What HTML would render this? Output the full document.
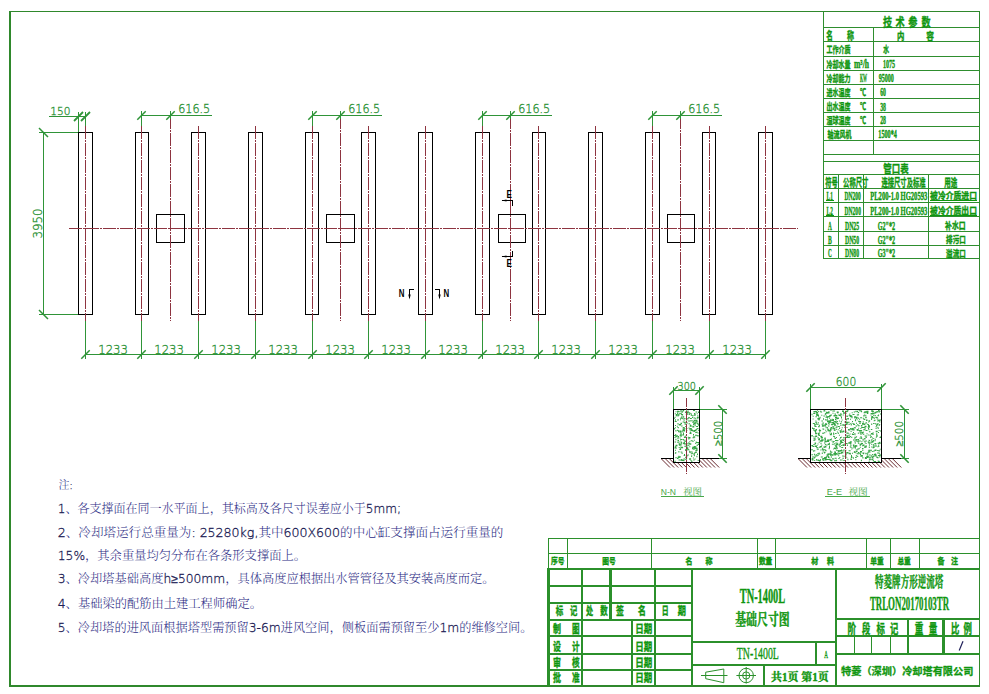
<!DOCTYPE html>
<html lang="zh-CN">
<head>
<meta charset="utf-8">
<title>TN-1400L 基础尺寸图</title>
<style>
html,body{margin:0;padding:0;background:#fff;}
body{width:989px;height:694px;overflow:hidden;}
svg{display:block;}
text{white-space:pre;}
.cad{font-family:"DejaVu Sans","Liberation Sans",sans-serif;font-weight:200;stroke:#2f9438;stroke-width:.35px;}
.ser{font-family:"Liberation Serif","Noto Serif CJK SC",serif;}
.song{font-family:"Liberation Serif","Noto Serif CJK SC",serif;font-weight:bold;}
.hei{font-family:"Liberation Sans","Noto Sans CJK SC",sans-serif;}
.note{font-family:"DejaVu Sans","Liberation Sans","Noto Serif CJK SC",serif;font-weight:300;}
</style>
</head>
<body>
<svg width="989" height="694" viewBox="0 0 989 694">
<rect width="989" height="694" fill="#fff"/>
<path fill="#2f882c" shape-rendering="crispEdges" d="M9 11h2v676h-2zM9 685h971v2h-971zM9 11h971v1h-971zM979 11h1v676h-1z"/>
<path fill="#000" shape-rendering="crispEdges" d="M78 132h1v183h-1zM92 132h1v183h-1zM78 132h15v1h-15zM78 314h15v1h-15zM135 132h1v183h-1zM148 132h1v183h-1zM135 132h14v1h-14zM135 314h14v1h-14zM191 132h1v183h-1zM205 132h1v183h-1zM191 132h15v1h-15zM191 314h15v1h-15zM248 132h1v183h-1zM262 132h1v183h-1zM248 132h15v1h-15zM248 314h15v1h-15zM305 132h1v183h-1zM318 132h1v183h-1zM305 132h14v1h-14zM305 314h14v1h-14zM361 132h1v183h-1zM375 132h1v183h-1zM361 132h15v1h-15zM361 314h15v1h-15zM418 132h1v183h-1zM432 132h1v183h-1zM418 132h15v1h-15zM418 314h15v1h-15zM475 132h1v183h-1zM489 132h1v183h-1zM475 132h15v1h-15zM475 314h15v1h-15zM532 132h1v183h-1zM545 132h1v183h-1zM532 132h14v1h-14zM532 314h14v1h-14zM588 132h1v183h-1zM602 132h1v183h-1zM588 132h15v1h-15zM588 314h15v1h-15zM645 132h1v183h-1zM659 132h1v183h-1zM645 132h15v1h-15zM645 314h15v1h-15zM702 132h1v183h-1zM715 132h1v183h-1zM702 132h14v1h-14zM702 314h14v1h-14zM758 132h1v183h-1zM772 132h1v183h-1zM758 132h15v1h-15zM758 314h15v1h-15zM156 214h1v29h-1zM184 214h1v29h-1zM156 214h29v1h-29zM156 242h29v1h-29zM326 214h1v29h-1zM354 214h1v29h-1zM326 214h29v1h-29zM326 242h29v1h-29zM498 214h1v29h-1zM525 214h1v29h-1zM498 214h28v1h-28zM498 242h28v1h-28zM667 214h1v29h-1zM694 214h1v29h-1zM667 214h28v1h-28zM667 242h28v1h-28z"/>
<line x1="85.5" y1="126" x2="85.5" y2="321" stroke="#8e3440" stroke-width="1" stroke-dasharray="13 1 2 1" stroke-dashoffset="0" shape-rendering="crispEdges"/>
<line x1="141.5" y1="126" x2="141.5" y2="321" stroke="#8e3440" stroke-width="1" stroke-dasharray="13 1 2 1" stroke-dashoffset="0" shape-rendering="crispEdges"/>
<line x1="198.5" y1="126" x2="198.5" y2="321" stroke="#8e3440" stroke-width="1" stroke-dasharray="13 1 2 1" stroke-dashoffset="0" shape-rendering="crispEdges"/>
<line x1="255.5" y1="126" x2="255.5" y2="321" stroke="#8e3440" stroke-width="1" stroke-dasharray="13 1 2 1" stroke-dashoffset="0" shape-rendering="crispEdges"/>
<line x1="312.5" y1="126" x2="312.5" y2="321" stroke="#8e3440" stroke-width="1" stroke-dasharray="13 1 2 1" stroke-dashoffset="0" shape-rendering="crispEdges"/>
<line x1="368.5" y1="126" x2="368.5" y2="321" stroke="#8e3440" stroke-width="1" stroke-dasharray="13 1 2 1" stroke-dashoffset="0" shape-rendering="crispEdges"/>
<line x1="425.5" y1="126" x2="425.5" y2="321" stroke="#8e3440" stroke-width="1" stroke-dasharray="13 1 2 1" stroke-dashoffset="0" shape-rendering="crispEdges"/>
<line x1="482.5" y1="126" x2="482.5" y2="321" stroke="#8e3440" stroke-width="1" stroke-dasharray="13 1 2 1" stroke-dashoffset="0" shape-rendering="crispEdges"/>
<line x1="538.5" y1="126" x2="538.5" y2="321" stroke="#8e3440" stroke-width="1" stroke-dasharray="13 1 2 1" stroke-dashoffset="0" shape-rendering="crispEdges"/>
<line x1="595.5" y1="126" x2="595.5" y2="321" stroke="#8e3440" stroke-width="1" stroke-dasharray="13 1 2 1" stroke-dashoffset="0" shape-rendering="crispEdges"/>
<line x1="652.5" y1="126" x2="652.5" y2="321" stroke="#8e3440" stroke-width="1" stroke-dasharray="13 1 2 1" stroke-dashoffset="0" shape-rendering="crispEdges"/>
<line x1="709.5" y1="126" x2="709.5" y2="321" stroke="#8e3440" stroke-width="1" stroke-dasharray="13 1 2 1" stroke-dashoffset="0" shape-rendering="crispEdges"/>
<line x1="765.5" y1="126" x2="765.5" y2="321" stroke="#8e3440" stroke-width="1" stroke-dasharray="13 1 2 1" stroke-dashoffset="0" shape-rendering="crispEdges"/>
<line x1="170.5" y1="119" x2="170.5" y2="321" stroke="#8e3440" stroke-width="1" stroke-dasharray="13 1 2 1" stroke-dashoffset="3" shape-rendering="crispEdges"/>
<line x1="340.5" y1="119" x2="340.5" y2="321" stroke="#8e3440" stroke-width="1" stroke-dasharray="13 1 2 1" stroke-dashoffset="3" shape-rendering="crispEdges"/>
<line x1="510.5" y1="119" x2="510.5" y2="321" stroke="#8e3440" stroke-width="1" stroke-dasharray="13 1 2 1" stroke-dashoffset="3" shape-rendering="crispEdges"/>
<line x1="680.5" y1="119" x2="680.5" y2="321" stroke="#8e3440" stroke-width="1" stroke-dasharray="13 1 2 1" stroke-dashoffset="3" shape-rendering="crispEdges"/>
<line x1="69" y1="228.5" x2="798" y2="228.5" stroke="#8e3440" stroke-width="1" stroke-dasharray="13 1 2 1" stroke-dashoffset="0" shape-rendering="crispEdges"/>
<path fill="#2f9438" shape-rendering="crispEdges" d="M85 321h1v38h-1zM141 321h1v38h-1zM198 321h1v38h-1zM255 321h1v38h-1zM312 321h1v38h-1zM368 321h1v38h-1zM425 321h1v38h-1zM482 321h1v38h-1zM538 321h1v38h-1zM595 321h1v38h-1zM652 321h1v38h-1zM709 321h1v38h-1zM765 321h1v38h-1zM85 354h681v1h-681zM43 132h1v183h-1zM39 132h39v1h-39zM39 314h39v1h-39zM49 116h37v1h-37zM78 112h1v20h-1zM85 112h1v14h-1zM141 115h71v1h-71zM141 111h1v15h-1zM170 111h1v8h-1zM312 115h70v1h-70zM312 111h1v15h-1zM340 111h1v8h-1zM482 115h70v1h-70zM482 111h1v15h-1zM510 111h1v8h-1zM652 115h70v1h-70zM652 111h1v15h-1zM680 111h1v8h-1z"/>
<line x1="81.3" y1="358.7" x2="89.7" y2="350.3" stroke="#2f9438" stroke-width="1.5"/>
<line x1="137.3" y1="358.7" x2="145.7" y2="350.3" stroke="#2f9438" stroke-width="1.5"/>
<line x1="194.3" y1="358.7" x2="202.7" y2="350.3" stroke="#2f9438" stroke-width="1.5"/>
<line x1="251.3" y1="358.7" x2="259.7" y2="350.3" stroke="#2f9438" stroke-width="1.5"/>
<line x1="308.3" y1="358.7" x2="316.7" y2="350.3" stroke="#2f9438" stroke-width="1.5"/>
<line x1="364.3" y1="358.7" x2="372.7" y2="350.3" stroke="#2f9438" stroke-width="1.5"/>
<line x1="421.3" y1="358.7" x2="429.7" y2="350.3" stroke="#2f9438" stroke-width="1.5"/>
<line x1="478.3" y1="358.7" x2="486.7" y2="350.3" stroke="#2f9438" stroke-width="1.5"/>
<line x1="534.3" y1="358.7" x2="542.7" y2="350.3" stroke="#2f9438" stroke-width="1.5"/>
<line x1="591.3" y1="358.7" x2="599.7" y2="350.3" stroke="#2f9438" stroke-width="1.5"/>
<line x1="648.3" y1="358.7" x2="656.7" y2="350.3" stroke="#2f9438" stroke-width="1.5"/>
<line x1="705.3" y1="358.7" x2="713.7" y2="350.3" stroke="#2f9438" stroke-width="1.5"/>
<line x1="761.3" y1="358.7" x2="769.7" y2="350.3" stroke="#2f9438" stroke-width="1.5"/>
<line x1="39" y1="128" x2="48" y2="137" stroke="#2f9438" stroke-width="1.5"/>
<line x1="39" y1="310" x2="48" y2="319" stroke="#2f9438" stroke-width="1.5"/>
<line x1="74" y1="121" x2="83" y2="112" stroke="#2f9438" stroke-width="1.8"/>
<line x1="81" y1="121" x2="90" y2="112" stroke="#2f9438" stroke-width="1.8"/>
<line x1="137.3" y1="119.7" x2="145.7" y2="111.3" stroke="#2f9438" stroke-width="1.5"/>
<line x1="166.3" y1="119.7" x2="174.7" y2="111.3" stroke="#2f9438" stroke-width="1.5"/>
<line x1="308.3" y1="119.7" x2="316.7" y2="111.3" stroke="#2f9438" stroke-width="1.5"/>
<line x1="336.3" y1="119.7" x2="344.7" y2="111.3" stroke="#2f9438" stroke-width="1.5"/>
<line x1="478.3" y1="119.7" x2="486.7" y2="111.3" stroke="#2f9438" stroke-width="1.5"/>
<line x1="506.3" y1="119.7" x2="514.7" y2="111.3" stroke="#2f9438" stroke-width="1.5"/>
<line x1="648.3" y1="119.7" x2="656.7" y2="111.3" stroke="#2f9438" stroke-width="1.5"/>
<line x1="676.3" y1="119.7" x2="684.7" y2="111.3" stroke="#2f9438" stroke-width="1.5"/>
<text x="98.3" y="353.6" font-size="11.8" fill="#2f9438" textLength="29.6" lengthAdjust="spacingAndGlyphs" class="cad">1233</text>
<text x="154.3" y="353.6" font-size="11.8" fill="#2f9438" textLength="29.6" lengthAdjust="spacingAndGlyphs" class="cad">1233</text>
<text x="211.3" y="353.6" font-size="11.8" fill="#2f9438" textLength="29.6" lengthAdjust="spacingAndGlyphs" class="cad">1233</text>
<text x="268.3" y="353.6" font-size="11.8" fill="#2f9438" textLength="29.6" lengthAdjust="spacingAndGlyphs" class="cad">1233</text>
<text x="325.3" y="353.6" font-size="11.8" fill="#2f9438" textLength="29.6" lengthAdjust="spacingAndGlyphs" class="cad">1233</text>
<text x="381.3" y="353.6" font-size="11.8" fill="#2f9438" textLength="29.6" lengthAdjust="spacingAndGlyphs" class="cad">1233</text>
<text x="438.3" y="353.6" font-size="11.8" fill="#2f9438" textLength="29.6" lengthAdjust="spacingAndGlyphs" class="cad">1233</text>
<text x="495.3" y="353.6" font-size="11.8" fill="#2f9438" textLength="29.6" lengthAdjust="spacingAndGlyphs" class="cad">1233</text>
<text x="551.3" y="353.6" font-size="11.8" fill="#2f9438" textLength="29.6" lengthAdjust="spacingAndGlyphs" class="cad">1233</text>
<text x="608.3" y="353.6" font-size="11.8" fill="#2f9438" textLength="29.6" lengthAdjust="spacingAndGlyphs" class="cad">1233</text>
<text x="665.3" y="353.6" font-size="11.8" fill="#2f9438" textLength="29.6" lengthAdjust="spacingAndGlyphs" class="cad">1233</text>
<text x="722.3" y="353.6" font-size="11.8" fill="#2f9438" textLength="29.6" lengthAdjust="spacingAndGlyphs" class="cad">1233</text>
<text x="50.2" y="114.6" font-size="11.2" fill="#2f9438" textLength="20.2" lengthAdjust="spacingAndGlyphs" class="cad">150</text>
<text x="178.2" y="113.4" font-size="11.6" fill="#2f9438" textLength="32" lengthAdjust="spacingAndGlyphs" class="cad">616.5</text>
<text x="348.2" y="113.4" font-size="11.6" fill="#2f9438" textLength="32" lengthAdjust="spacingAndGlyphs" class="cad">616.5</text>
<text x="518.2" y="113.4" font-size="11.6" fill="#2f9438" textLength="32" lengthAdjust="spacingAndGlyphs" class="cad">616.5</text>
<text x="688.2" y="113.4" font-size="11.6" fill="#2f9438" textLength="32" lengthAdjust="spacingAndGlyphs" class="cad">616.5</text>
<text transform="translate(41.8 238.6) rotate(-90)" font-size="11.4" fill="#2f9438" textLength="30" lengthAdjust="spacingAndGlyphs" class="cad">3950</text>
<path fill="#000" shape-rendering="crispEdges" d="M409 289h5v1h-5zM409 289h1v9h-1zM435 289h5v1h-5zM439 289h1v9h-1zM502 200h11v1h-11zM512 200h1v6h-1zM512 251h1v5h-1zM502 256h11v1h-11z"/>
<path fill="#000" d="M408.3 294.5l1.2 5 1.2-5zM438.3 294.5l1.2 5 1.2-5zM506.5 199.4l-5 1.1 5 1.1zM506.5 255.4l-5 1.1 5 1.1z"/>
<text x="398.8" y="296.8" font-size="11.8" fill="#000" textLength="5.7" lengthAdjust="spacingAndGlyphs" font-weight="bold" class="hei">N</text>
<text x="443.4" y="296.8" font-size="11.8" fill="#000" textLength="5.7" lengthAdjust="spacingAndGlyphs" font-weight="bold" class="hei">N</text>
<text x="506.6" y="198.4" font-size="11.8" fill="#000" textLength="5.4" lengthAdjust="spacingAndGlyphs" font-weight="bold" class="hei">E</text>
<text x="506.6" y="267.2" font-size="11.8" fill="#000" textLength="5.4" lengthAdjust="spacingAndGlyphs" font-weight="bold" class="hei">E</text>
<path stroke="#6b2a30" stroke-width="1" fill="none" d="M661.5 459l8.5 8.5M665.6 459l8.5 8.5M669.7 459l8.5 8.5M673.8 459l8.5 8.5M677.9 459l8.5 8.5M682.0 459l8.5 8.5M686.1 459l8.5 8.5M690.2 459l8.5 8.5M694.3 459l8.5 8.5M698.4 459l8.5 8.5M702.5 459l8.5 8.5M706.6 459l8.5 8.5M710.7 459l8.5 8.5"/>
<rect x="673.5" y="409.5" width="26" height="53" fill="#fff"/>
<path fill="#35a545" d="M681.8 417.7h1v1h-1zM693.7 414.8h2v1h-2zM695.8 420.9h1v1h-1zM684.0 422.3h2v1h-2zM675.4 438.8h1v1.5h-1zM689.1 458.3h2v1.5h-2zM683.5 459.8h1v1.5h-1zM694.6 424.8h1v1.5h-1zM676.8 425.7h1v1h-1zM688.0 442.6h1v1h-1zM687.1 413.2h1v1.5h-1zM678.9 444.7h1.5v1h-1.5zM685.2 457.1h1v1h-1zM680.0 419.2h1v1h-1zM687.8 436.8h1v1.5h-1zM684.8 441.1h1v1h-1zM686.3 418.4h1v1h-1zM696.4 431.5h1v1.5h-1zM687.8 454.6h1v1h-1zM690.7 440.3h2v1h-2zM675.7 414.8h1v1h-1zM690.7 413.3h1v1.5h-1zM687.9 444.7h1.5v1h-1.5zM691.2 455.2h1v1h-1zM696.6 428.1h2v1h-2zM685.8 421.1h1v1h-1zM691.7 430.3h1.5v1h-1.5zM678.0 430.5h1v1h-1zM693.7 454.1h1v1.5h-1zM684.0 428.3h1.5v1h-1.5zM677.6 419.0h1v1.5h-1zM679.6 434.7h2v1h-2zM680.3 410.2h1.5v1.5h-1.5zM682.9 438.9h1v1.5h-1zM694.6 458.5h1v1h-1zM695.6 449.8h2v1h-2zM683.6 430.1h1.5v1.5h-1.5zM683.6 419.7h1v1h-1zM677.9 427.3h1v1h-1zM674.0 417.7h1v1h-1zM688.7 413.6h1v1.5h-1zM683.0 442.4h1v1.5h-1zM682.7 416.3h1.5v1h-1.5zM685.5 425.9h1v1h-1zM692.0 447.8h1.5v1.5h-1.5zM677.9 411.2h2v1h-2zM677.5 437.7h1v1.5h-1zM681.2 442.8h1v1.5h-1zM694.3 436.4h1v1h-1zM692.5 437.2h2v1h-2zM689.3 441.3h1v1h-1zM693.6 447.7h1v1h-1zM686.4 428.1h1v1h-1zM693.0 434.1h1v1.5h-1zM688.5 427.6h1v1h-1zM675.9 415.2h1.5v1h-1.5zM682.1 434.6h2v1h-2zM685.5 443.3h1v1.5h-1zM676.9 429.8h1v1h-1zM695.3 432.1h1v1h-1zM693.2 459.6h1.5v1h-1.5zM683.6 458.3h1v1h-1zM697.8 411.4h2v1h-2zM693.4 417.5h2v1h-2zM689.8 427.9h2v1.5h-2zM677.1 410.7h1v1.5h-1zM692.0 417.1h1v1h-1zM674.7 420.9h2v1h-2zM692.3 426.6h2v1h-2zM694.0 413.1h1v1h-1zM689.9 451.6h2v1h-2zM693.9 454.8h1v1.5h-1zM677.6 436.0h1.5v1h-1.5zM688.6 449.6h1v1h-1zM677.4 441.6h1v1.5h-1zM675.5 444.8h2v1.5h-2zM685.6 449.6h2v1h-2zM680.0 424.1h1v1.5h-1zM684.9 411.4h1v1h-1zM681.8 459.6h2v1.5h-2zM678.8 424.1h2v1.5h-2zM693.4 435.9h1v1.5h-1zM686.6 454.7h1v1.5h-1zM695.4 420.3h1.5v1h-1.5zM684.0 430.0h1v1h-1zM690.1 431.8h1v1.5h-1zM681.3 416.2h1v1.5h-1zM689.4 428.7h1v1h-1zM697.2 421.2h1v1h-1zM695.2 418.3h1v1h-1zM691.0 460.7h1.5v1h-1.5zM684.1 428.2h1v1.5h-1zM682.8 427.2h1.5v1h-1.5zM690.9 429.6h2v1.5h-2zM681.1 459.0h1v1h-1zM697.3 415.3h1v1h-1zM675.0 449.7h1v1h-1zM693.7 453.3h1v1h-1zM677.6 456.9h2v1h-2zM690.8 414.6h1v1.5h-1zM678.4 455.7h1v1h-1zM689.2 450.9h1v1.5h-1zM694.5 413.4h1v1h-1zM674.3 460.7h1.5v1h-1.5zM688.9 412.2h1v1h-1zM697.3 423.4h1v1h-1zM696.4 442.1h2v1h-2zM681.0 435.5h1v1h-1zM682.3 410.9h1v1h-1zM674.4 447.4h2v1h-2zM686.3 422.5h1.5v1h-1.5zM689.8 443.2h1.5v1.5h-1.5zM694.0 430.0h2v1h-2zM690.5 460.1h1v1h-1zM694.0 446.0h1v1h-1zM697.7 460.1h1v1h-1zM675.7 447.8h1v1h-1zM677.9 414.3h1.5v1.5h-1.5zM690.1 424.4h1v1.5h-1zM681.0 433.4h1v1h-1zM684.7 423.4h1v1.5h-1zM681.8 411.8h1v1h-1zM682.6 410.1h1.5v1h-1.5zM685.4 435.6h1v1h-1zM686.1 410.3h1v1h-1zM677.5 439.9h1.5v1h-1.5zM681.2 442.1h1v1.5h-1zM697.0 453.5h1v1.5h-1zM695.4 450.0h2v1h-2zM692.3 446.8h1.5v1h-1.5zM680.8 441.6h1v1h-1zM693.8 446.5h2v1.5h-2zM684.3 445.8h2v1h-2zM695.8 448.4h2v1h-2zM693.8 439.8h1v1h-1zM674.7 416.8h1v1h-1zM683.0 433.0h1v1.5h-1zM674.5 437.1h1v1h-1zM680.3 433.3h1v1.5h-1zM696.4 455.8h1v1.5h-1zM686.6 448.0h1.5v1h-1.5zM693.4 453.2h1v1.5h-1zM692.2 421.8h1.5v1h-1.5zM694.3 413.9h1v1h-1zM688.8 442.8h1v1.5h-1zM677.5 423.0h1v1.5h-1zM687.6 410.6h1v1h-1zM680.5 444.3h1v1.5h-1zM685.8 446.2h1v1h-1zM685.2 449.1h2v1h-2zM681.5 414.4h1.5v1h-1.5zM681.0 413.9h2v1h-2zM697.9 429.7h1v1h-1zM688.0 417.2h2v1h-2zM696.9 416.8h2v1h-2zM695.3 445.9h1v1h-1zM695.5 434.8h1v1h-1zM674.1 435.1h1.5v1h-1.5zM681.2 417.2h1v1h-1zM681.6 452.9h1v1h-1zM692.0 452.8h1v1h-1zM691.1 456.0h1v1h-1zM682.9 430.0h2v1h-2zM682.7 431.8h1v1h-1zM680.7 412.6h1v1.5h-1zM696.5 422.7h1v1h-1zM686.3 419.7h1v1h-1zM695.2 451.4h1.5v1.5h-1.5zM687.2 446.7h1v1.5h-1zM683.9 441.4h1v1.5h-1zM694.9 434.8h2v1h-2zM678.1 431.2h1v1h-1zM680.1 447.7h1v1h-1zM689.7 425.3h2v1.5h-2zM683.5 418.5h1v1h-1zM679.0 456.2h1.5v1.5h-1.5zM679.3 456.2h1.5v1h-1.5zM677.4 419.8h1v1h-1zM682.2 414.6h1v1h-1zM680.2 439.1h1v1.5h-1zM694.9 429.5h2v1h-2zM683.0 427.2h1v1h-1zM680.7 459.4h1v1.5h-1zM686.1 442.1h1v1h-1zM680.5 422.7h1.5v1.5h-1.5zM684.7 458.7h1v1h-1zM674.8 446.2h1.5v1.5h-1.5zM685.8 413.7h2v1h-2zM697.3 422.7h1v1h-1zM677.7 436.6h1v1.5h-1zM690.8 453.2h1.5v1h-1.5zM687.2 412.0h1v1h-1zM687.7 411.9h1v1h-1zM689.0 436.9h1.5v1.5h-1.5zM692.3 415.1h1v1.5h-1zM696.6 419.8h1v1h-1zM693.0 410.1h2v1h-2zM697.9 424.2h1v1.5h-1zM694.1 422.4h2v1h-2zM687.1 411.5h1.5v1.5h-1.5zM689.6 412.8h1v1h-1zM695.2 443.0h1v1h-1zM679.5 431.6h1v1h-1zM685.8 445.5h1.5v1h-1.5zM690.4 420.1h1v1.5h-1zM694.3 413.4h1.5v1h-1.5zM681.5 451.8h1v1h-1zM679.3 448.8h1v1h-1zM696.8 435.3h1v1h-1zM685.6 456.4h1v1.5h-1zM677.5 430.1h1v1h-1zM697.4 417.2h1v1.5h-1zM675.4 430.1h1v1.5h-1zM676.7 414.0h1v1h-1zM678.6 443.3h2v1.5h-2zM685.2 425.9h1.5v1h-1.5zM697.6 432.6h1v1h-1zM675.9 414.1h1.5v1h-1.5zM687.5 448.7h1.5v1h-1.5zM692.4 425.7h1.5v1h-1.5zM675.2 434.1h1v1.5h-1zM696.1 419.8h1v1.5h-1zM695.5 411.5h1.5v1h-1.5zM693.5 449.1h1v1h-1zM674.8 413.2h1v1h-1zM678.7 413.2h2v1h-2zM682.7 427.1h2v1h-2zM680.3 446.5h1v1h-1zM681.1 446.8h2v1.5h-2zM696.7 413.3h1v1h-1zM685.4 458.8h1.5v1h-1.5zM695.9 451.6h1v1h-1zM678.4 450.9h1v1.5h-1zM692.5 441.0h1v1h-1zM685.1 450.0h2v1h-2zM686.3 430.0h1v1h-1zM683.8 443.1h1.5v1.5h-1.5zM687.1 418.2h1.5v1h-1.5zM697.7 423.5h1v1h-1zM676.3 435.4h1.5v1h-1.5zM679.6 431.3h2v1.5h-2zM679.6 437.5h1v1h-1zM681.1 438.9h1v1h-1zM691.7 420.2h1v1h-1zM679.9 417.8h2v1h-2zM681.8 430.2h1v1.5h-1zM686.6 443.1h1v1.5h-1zM685.1 411.9h1v1h-1zM695.2 421.8h1.5v1h-1.5zM675.0 425.0h1v1h-1zM678.5 459.6h2v1h-2zM696.3 429.0h1v1h-1zM688.5 449.5h1v1h-1zM689.3 446.2h1v1h-1zM674.9 427.3h1v1h-1zM698.0 412.0h1v1h-1zM693.7 430.9h1v1h-1zM688.9 414.0h1v1h-1zM687.2 413.2h1v1h-1zM689.9 417.9h2v1h-2zM689.7 430.3h1v1h-1zM697.7 444.1h1.5v1h-1.5zM681.5 438.9h1v1h-1zM684.0 454.1h1v1.5h-1zM678.7 447.1h1v1h-1zM684.4 418.0h1v1h-1zM683.7 455.0h1.5v1h-1.5zM677.1 412.6h1v1.5h-1zM693.4 430.2h2v1.5h-2zM696.3 447.6h1v1h-1zM682.4 418.3h1v1h-1zM676.6 435.0h1v1h-1zM677.0 458.1h1.5v1h-1.5zM675.3 457.2h1.5v1h-1.5zM695.7 441.6h1v1.5h-1zM692.9 421.3h1.5v1.5h-1.5zM694.3 452.3h1v1.5h-1zM679.2 430.4h2v1h-2zM683.2 416.3h1v1.5h-1zM693.6 419.8h2v1.5h-2zM674.9 452.7h1v1h-1zM688.4 438.1h1v1.5h-1zM684.1 439.7h1.5v1h-1.5zM689.8 432.8h1.5v1h-1.5zM674.6 441.6h1.5v1h-1.5zM679.6 448.9h1.5v1h-1.5zM693.5 430.4h1v1h-1zM682.6 428.6h1.5v1.5h-1.5zM686.2 412.1h1v1h-1zM696.1 426.0h2v1h-2zM675.3 435.7h1.5v1.5h-1.5zM696.8 416.9h1v1.5h-1zM691.6 451.6h1v1h-1zM697.6 435.1h1v1.5h-1zM692.9 457.5h1v1h-1zM688.7 422.9h1v1.5h-1zM680.6 451.6h1v1h-1zM686.1 456.9h1v1.5h-1zM680.3 435.8h1v1h-1zM674.9 419.3h1v1.5h-1zM696.5 444.7h1.5v1h-1.5zM693.0 423.5h2v1h-2zM689.3 428.3h1.5v1.5h-1.5zM686.5 445.1h1v1h-1zM697.8 442.1h1.5v1.5h-1.5zM693.1 423.5h1v1.5h-1zM677.5 426.9h1v1h-1zM679.5 441.4h1v1h-1zM693.7 422.9h2v1.5h-2zM695.5 447.4h1v1h-1zM677.6 441.4h1.5v1h-1.5zM686.3 455.7h1v1h-1zM679.5 443.3h1v1h-1zM674.1 428.1h1v1.5h-1zM682.6 421.4h2v1h-2zM688.1 420.4h2v1h-2zM677.8 410.7h1v1.5h-1zM677.6 414.9h1v1.5h-1zM692.8 430.5h1v1h-1zM675.3 451.9h1v1.5h-1zM689.5 432.6h2v1.5h-2zM685.8 418.4h1v1h-1zM675.5 411.3h1v1h-1zM677.8 456.5h1v1h-1zM688.7 443.5h1v1h-1zM683.9 436.4h2v1.5h-2zM689.4 451.5h1v1.5h-1zM681.4 425.3h1v1.5h-1zM692.8 446.5h1v1h-1zM694.3 448.0h1.5v1h-1.5z"/>
<path stroke="#6b2a30" stroke-width="1" fill="none" d="M798.5 459l8.5 8.5M802.6 459l8.5 8.5M806.7 459l8.5 8.5M810.8 459l8.5 8.5M814.9 459l8.5 8.5M819.0 459l8.5 8.5M823.1 459l8.5 8.5M827.2 459l8.5 8.5M831.3 459l8.5 8.5M835.4 459l8.5 8.5M839.5 459l8.5 8.5M843.6 459l8.5 8.5M847.7 459l8.5 8.5M851.8 459l8.5 8.5M855.9 459l8.5 8.5M860.0 459l8.5 8.5M864.1 459l8.5 8.5M868.2 459l8.5 8.5M872.3 459l8.5 8.5M876.4 459l8.5 8.5M880.5 459l8.5 8.5M884.6 459l8.5 8.5M888.7 459l8.5 8.5M892.8 459l8.5 8.5"/>
<rect x="810.5" y="409.5" width="71" height="53" fill="#fff"/>
<path fill="#35a545" d="M862.2 433.1h1v1h-1zM829.0 442.8h1v1h-1zM872.5 457.2h1v1.5h-1zM814.6 442.4h1.5v1.5h-1.5zM865.4 436.7h1v1h-1zM855.3 459.2h1v1h-1zM871.7 410.8h1v1h-1zM869.1 420.3h1v1.5h-1zM874.1 419.8h1.5v1h-1.5zM852.5 429.4h2v1h-2zM843.6 437.1h1v1h-1zM841.2 447.0h2v1h-2zM865.5 430.0h2v1h-2zM850.0 418.7h1v1h-1zM818.7 441.7h1v1h-1zM878.4 445.7h1v1h-1zM820.5 442.8h1v1.5h-1zM815.7 412.4h2v1h-2zM824.8 458.7h2v1.5h-2zM815.6 454.3h1.5v1h-1.5zM828.0 420.4h1v1h-1zM876.5 456.5h1v1.5h-1zM854.6 434.3h1v1h-1zM865.6 443.0h1v1h-1zM834.2 423.3h1v1h-1zM875.2 412.5h1v1h-1zM864.1 440.7h1.5v1h-1.5zM853.7 411.6h1.5v1h-1.5zM841.1 449.4h1v1h-1zM859.6 437.4h1v1.5h-1zM870.5 414.6h1v1h-1zM841.1 436.7h1v1h-1zM811.3 435.0h1.5v1.5h-1.5zM866.0 419.4h1.5v1.5h-1.5zM835.0 452.4h1v1.5h-1zM876.1 424.5h1v1.5h-1zM827.0 418.5h1v1h-1zM865.4 445.6h1v1.5h-1zM833.5 414.9h1.5v1.5h-1.5zM816.9 455.3h1v1h-1zM825.2 423.4h2v1.5h-2zM822.8 460.1h1v1h-1zM819.8 440.3h2v1.5h-2zM813.3 439.7h2v1h-2zM870.9 433.0h2v1.5h-2zM833.3 433.6h1v1.5h-1zM826.9 427.0h1v1.5h-1zM824.2 425.4h2v1h-2zM860.9 459.7h1v1.5h-1zM847.0 418.2h1v1h-1zM828.8 458.7h1v1h-1zM877.4 415.2h1.5v1h-1.5zM878.9 450.5h1v1h-1zM829.9 415.6h1v1h-1zM825.2 429.8h1v1h-1zM838.5 450.3h1v1.5h-1zM878.7 425.1h1v1h-1zM828.7 447.7h1v1.5h-1zM827.7 453.5h2v1.5h-2zM862.7 431.5h1v1.5h-1zM860.8 454.9h2v1h-2zM857.9 442.7h1.5v1h-1.5zM832.6 442.0h1v1h-1zM827.7 430.4h1v1h-1zM869.6 434.6h1v1.5h-1zM870.2 436.4h1v1.5h-1zM833.6 410.5h1.5v1h-1.5zM813.6 437.7h1v1.5h-1zM864.9 458.0h2v1h-2zM818.0 439.3h2v1h-2zM860.5 436.1h1v1.5h-1zM834.7 447.8h1.5v1h-1.5zM879.3 419.4h2v1h-2zM861.3 441.3h1v1h-1zM829.9 430.4h1v1h-1zM839.9 431.4h1v1.5h-1zM829.3 421.4h1.5v1.5h-1.5zM878.0 460.7h1.5v1h-1.5zM825.6 416.6h1v1.5h-1zM824.3 442.8h1v1h-1zM835.4 442.6h1.5v1h-1.5zM879.7 448.8h1v1h-1zM835.5 453.4h1v1.5h-1zM837.0 422.9h1.5v1.5h-1.5zM823.8 410.1h1v1h-1zM827.9 425.4h1.5v1h-1.5zM840.6 442.5h1v1h-1zM875.1 453.6h1v1h-1zM868.1 456.2h1v1.5h-1zM868.4 442.3h1v1.5h-1zM811.8 458.5h1v1h-1zM853.0 439.5h1v1h-1zM864.6 427.7h1v1h-1zM873.4 450.4h1v1.5h-1zM872.5 441.0h1v1.5h-1zM873.2 438.0h1v1h-1zM845.1 420.9h1v1.5h-1zM868.9 444.2h1v1.5h-1zM819.2 431.4h1v1h-1zM845.0 413.0h1.5v1h-1.5zM859.3 422.6h1v1.5h-1zM852.4 447.5h1v1h-1zM843.3 438.7h1v1h-1zM836.9 431.4h1v1h-1zM855.0 442.4h1v1h-1zM853.1 444.8h1v1h-1zM846.2 434.7h1v1h-1zM825.7 431.2h1v1h-1zM817.5 443.6h1v1h-1zM864.7 438.3h1v1h-1zM841.0 431.5h2v1h-2zM868.0 424.9h1.5v1h-1.5zM834.0 460.2h2v1h-2zM878.3 443.4h1v1h-1zM824.3 446.4h1v1.5h-1zM878.1 414.5h1v1h-1zM860.9 455.2h2v1.5h-2zM814.4 425.3h1v1h-1zM824.1 457.0h2v1.5h-2zM815.2 435.5h2v1.5h-2zM836.9 417.5h2v1.5h-2zM816.7 412.0h1.5v1.5h-1.5zM863.6 415.2h1v1h-1zM840.1 415.1h1v1h-1zM871.2 417.1h1v1.5h-1zM860.0 454.0h1v1h-1zM813.4 411.0h2v1.5h-2zM850.9 456.6h1.5v1.5h-1.5zM847.0 452.1h1.5v1.5h-1.5zM859.0 430.6h1v1h-1zM857.9 440.3h1v1h-1zM864.1 438.0h1v1.5h-1zM843.6 455.7h1v1h-1zM811.3 444.9h1v1h-1zM826.1 416.2h1.5v1h-1.5zM830.0 439.0h1.5v1.5h-1.5zM862.4 457.1h1v1.5h-1zM860.2 453.6h1v1h-1zM854.4 446.2h1.5v1.5h-1.5zM875.3 423.0h1v1.5h-1zM813.2 413.1h2v1h-2zM837.8 425.9h2v1h-2zM877.1 452.6h2v1h-2zM832.8 458.4h1.5v1h-1.5zM857.7 417.4h1v1h-1zM876.8 418.4h1.5v1h-1.5zM837.6 450.1h1v1.5h-1zM834.0 424.3h2v1.5h-2zM859.5 452.2h1v1.5h-1zM861.1 410.8h1v1.5h-1zM868.5 439.8h1v1h-1zM837.7 429.2h1v1h-1zM830.5 410.1h1v1h-1zM840.2 439.9h1v1h-1zM868.5 451.4h2v1h-2zM829.9 453.4h2v1.5h-2zM864.6 435.5h2v1h-2zM848.3 434.7h1.5v1h-1.5zM865.4 446.8h1v1h-1zM852.9 444.6h1.5v1.5h-1.5zM825.3 423.0h1v1h-1zM842.7 414.5h1v1h-1zM827.1 439.6h1v1.5h-1zM833.1 435.8h1v1h-1zM825.7 414.7h1v1h-1zM850.9 428.3h2v1h-2zM828.0 457.1h1.5v1h-1.5zM870.8 429.0h1.5v1h-1.5zM821.8 440.5h1v1h-1zM846.8 411.0h1v1h-1zM879.3 454.2h1.5v1.5h-1.5zM850.1 423.3h1v1h-1zM817.7 432.8h2v1.5h-2zM877.5 423.0h1v1h-1zM824.9 419.2h1v1h-1zM814.5 438.4h1.5v1h-1.5zM876.4 456.4h1v1.5h-1zM855.1 457.0h1v1h-1zM833.0 421.9h1v1.5h-1zM845.9 419.3h1v1h-1zM877.6 460.6h1v1h-1zM813.7 423.0h1v1h-1zM873.3 456.1h1v1h-1zM865.3 446.2h1.5v1h-1.5zM818.0 426.2h1v1h-1zM857.7 425.2h2v1h-2zM863.3 415.4h1v1h-1zM828.7 416.3h1.5v1h-1.5zM822.6 422.2h1v1.5h-1zM872.6 433.9h1v1h-1zM821.8 452.5h1v1.5h-1zM870.8 455.3h1v1h-1zM877.1 457.2h1.5v1h-1.5zM854.4 433.1h1v1h-1zM867.8 434.4h1v1h-1zM833.9 447.5h1v1.5h-1zM842.1 455.4h1.5v1h-1.5zM829.4 431.0h1v1h-1zM829.7 452.8h1v1h-1zM829.0 415.6h1.5v1h-1.5zM818.9 459.9h1v1.5h-1zM872.8 444.1h1v1.5h-1zM843.9 424.6h1v1h-1zM878.0 432.0h1v1h-1zM874.8 415.0h1v1h-1zM872.8 412.9h1v1h-1zM878.5 410.8h2v1h-2zM846.2 432.6h2v1h-2zM823.8 432.2h1.5v1h-1.5zM830.1 419.2h1v1.5h-1zM864.2 446.3h1v1.5h-1zM816.5 414.5h2v1.5h-2zM845.2 424.0h1v1h-1zM853.3 446.1h1v1.5h-1zM832.3 410.5h2v1h-2zM869.0 456.7h2v1h-2zM834.1 452.9h1.5v1h-1.5zM812.1 456.4h1.5v1h-1.5zM871.2 423.6h1v1.5h-1zM868.4 428.7h1v1.5h-1zM836.6 440.3h1v1h-1zM846.9 432.7h2v1h-2zM819.3 446.4h1v1.5h-1zM870.9 439.4h1v1h-1zM871.2 458.7h1.5v1h-1.5zM846.4 437.1h2v1h-2zM812.4 459.3h1v1.5h-1zM823.6 415.2h1v1.5h-1zM867.4 411.5h1v1.5h-1zM862.0 423.3h2v1.5h-2zM850.8 436.7h1.5v1h-1.5zM835.2 414.8h1v1h-1zM829.8 433.7h2v1.5h-2zM863.5 415.6h1v1h-1zM872.0 437.6h1v1h-1zM821.2 439.2h1.5v1h-1.5zM876.4 410.9h1.5v1.5h-1.5zM840.0 452.8h2v1h-2zM838.3 458.0h1v1h-1zM838.6 452.8h1.5v1.5h-1.5zM866.5 456.6h1.5v1.5h-1.5zM814.7 436.4h1v1h-1zM871.1 443.8h1v1h-1zM818.5 419.6h1v1h-1zM824.9 444.1h1v1h-1zM840.0 430.2h1.5v1.5h-1.5zM814.2 460.0h1v1h-1zM870.7 441.7h2v1h-2zM854.3 451.1h1v1.5h-1zM817.9 416.2h1v1h-1zM827.3 412.0h1v1h-1zM835.0 418.5h1v1.5h-1zM877.2 457.0h1v1h-1zM843.2 437.2h1v1h-1zM819.6 416.7h1v1h-1zM850.8 424.0h1v1.5h-1zM848.7 452.8h2v1.5h-2zM850.3 443.2h1v1.5h-1zM860.0 433.5h2v1h-2zM853.3 433.9h1v1h-1zM827.7 421.3h2v1.5h-2zM837.4 439.9h1v1h-1zM822.2 458.6h1v1.5h-1zM833.5 423.8h1v1h-1zM814.9 411.1h2v1h-2zM852.8 427.7h1v1.5h-1zM837.8 432.4h1v1.5h-1zM826.5 458.9h1v1h-1zM834.3 428.0h1v1.5h-1zM853.1 424.1h2v1h-2zM862.0 447.9h1.5v1h-1.5zM865.2 446.1h1v1h-1zM871.1 410.2h2v1.5h-2zM819.1 430.3h2v1h-2zM839.8 450.0h2v1.5h-2zM818.7 453.4h1.5v1h-1.5zM860.9 424.9h1.5v1.5h-1.5zM849.3 429.6h1v1h-1zM865.3 453.3h1.5v1h-1.5zM841.6 419.4h1v1h-1zM841.1 429.2h1v1h-1zM867.7 426.8h2v1h-2zM877.2 420.4h1.5v1h-1.5zM812.8 423.1h1.5v1h-1.5zM874.5 449.4h2v1.5h-2zM879.9 436.4h2v1.5h-2zM858.3 429.9h1v1h-1zM852.0 427.9h1v1.5h-1zM815.7 421.7h1.5v1h-1.5zM845.6 443.1h2v1h-2zM871.7 459.2h1.5v1h-1.5zM841.4 441.9h2v1h-2zM858.7 448.1h1v1h-1zM836.0 428.7h1v1h-1zM846.4 415.6h1v1.5h-1zM834.7 457.7h2v1h-2zM854.5 436.7h2v1h-2zM845.8 419.6h1v1h-1zM854.5 440.8h1v1.5h-1zM879.6 442.5h1v1.5h-1zM839.4 450.2h1v1.5h-1zM858.7 410.2h1v1h-1zM869.1 439.9h1v1h-1zM823.1 449.2h2v1h-2zM871.1 455.7h2v1h-2zM850.6 431.0h1v1h-1zM821.8 448.7h1v1h-1zM817.9 418.7h2v1h-2zM867.8 441.3h1v1.5h-1zM811.9 449.3h1v1h-1zM860.4 428.0h1v1h-1zM829.4 415.1h2v1h-2zM835.1 432.9h1.5v1h-1.5zM814.8 455.4h2v1h-2zM841.3 441.6h1v1h-1zM814.0 457.5h1v1h-1zM811.4 454.2h1.5v1h-1.5zM839.9 422.9h1.5v1h-1.5zM827.8 429.9h2v1h-2zM839.5 430.3h1.5v1h-1.5zM865.7 422.4h1v1h-1zM835.7 419.5h1v1h-1zM849.7 415.9h2v1h-2zM834.2 443.2h1v1h-1zM868.0 427.9h1v1h-1zM824.2 424.5h1v1h-1zM813.4 443.9h1v1h-1zM827.7 416.6h1v1h-1zM848.6 450.2h2v1h-2zM843.2 450.5h1v1h-1zM836.4 421.0h1.5v1h-1.5zM854.4 439.6h1v1h-1zM845.8 421.6h1.5v1.5h-1.5zM820.0 446.0h1v1.5h-1zM873.1 440.0h1v1.5h-1zM828.0 441.0h1v1h-1zM871.2 416.3h2v1h-2zM848.4 423.8h1.5v1h-1.5zM856.4 439.0h1v1h-1zM837.9 414.4h1v1h-1zM833.2 443.8h1v1h-1zM849.8 428.4h2v1h-2zM824.3 446.7h1v1h-1zM830.9 451.7h1.5v1h-1.5zM835.6 453.1h1.5v1.5h-1.5zM871.9 453.9h1v1h-1zM823.2 428.7h1v1h-1zM812.7 445.9h1.5v1h-1.5zM880.0 430.4h1v1h-1zM831.1 423.8h2v1.5h-2zM826.1 444.5h1.5v1h-1.5zM853.0 432.0h1v1h-1zM837.3 412.0h1v1.5h-1zM855.0 419.2h1v1.5h-1zM845.4 436.6h1.5v1.5h-1.5zM858.2 427.8h1v1h-1zM868.6 449.6h1v1h-1zM871.4 439.8h1v1h-1zM858.0 411.9h1v1h-1zM864.6 427.6h1v1h-1zM858.9 430.1h2v1h-2zM830.4 414.6h1.5v1h-1.5zM875.2 445.3h1.5v1.5h-1.5zM814.7 445.6h1.5v1.5h-1.5zM846.3 457.3h1v1h-1zM863.6 412.2h2v1h-2zM823.0 418.3h1v1.5h-1zM829.0 459.1h1v1h-1zM835.0 414.7h1v1h-1zM820.4 446.1h1.5v1h-1.5zM859.7 410.3h1.5v1h-1.5zM875.6 427.9h1v1h-1zM872.0 417.2h2v1h-2zM834.0 451.6h2v1h-2zM863.5 418.6h1v1.5h-1zM878.6 452.8h1.5v1h-1.5zM818.9 424.8h1v1h-1zM825.2 413.1h1v1h-1zM824.6 445.8h1.5v1h-1.5zM822.1 432.7h2v1h-2zM831.0 438.4h1v1h-1zM843.3 460.0h1.5v1h-1.5zM862.6 426.9h2v1h-2zM818.5 434.9h1.5v1h-1.5zM824.1 437.7h1v1h-1zM874.4 442.9h2v1.5h-2zM856.0 422.8h1v1h-1zM820.6 411.4h1.5v1h-1.5zM831.4 419.5h2v1.5h-2zM822.6 450.0h1v1.5h-1zM853.6 429.3h1v1h-1zM826.9 417.0h1v1h-1zM827.5 412.1h2v1.5h-2zM874.6 461.0h1.5v1h-1.5zM876.2 435.2h1.5v1.5h-1.5zM821.9 425.3h2v1.5h-2zM816.5 445.1h1v1h-1zM841.6 459.5h1v1h-1zM869.7 434.4h1v1.5h-1zM836.7 411.6h2v1.5h-2zM840.4 424.4h1v1.5h-1zM860.0 455.4h1v1h-1zM811.6 458.8h1v1.5h-1zM822.3 425.1h1.5v1.5h-1.5zM857.6 438.9h1.5v1h-1.5zM848.4 436.4h1.5v1.5h-1.5zM873.7 454.1h1.5v1.5h-1.5zM853.8 451.4h1v1.5h-1zM857.7 441.1h1v1.5h-1zM850.4 458.6h1.5v1.5h-1.5zM855.7 425.3h1v1.5h-1zM872.1 411.4h1v1h-1zM857.8 432.8h1v1h-1zM856.6 429.0h2v1h-2zM835.8 422.3h1.5v1h-1.5zM829.0 421.6h1v1.5h-1zM862.7 421.3h1v1.5h-1zM817.6 437.1h1v1.5h-1zM844.8 438.3h1v1.5h-1zM850.5 415.8h2v1.5h-2zM850.1 453.4h1v1h-1zM820.3 435.7h2v1.5h-2zM868.9 458.4h2v1h-2zM842.7 445.0h2v1h-2zM877.8 419.8h1.5v1h-1.5zM820.4 449.6h1v1h-1zM827.3 429.0h1v1.5h-1zM852.0 420.9h1v1h-1zM859.8 431.7h1v1.5h-1zM879.2 420.3h1v1.5h-1zM871.1 418.6h1v1.5h-1zM858.0 452.1h1v1h-1zM836.7 447.6h1v1.5h-1zM844.7 451.6h1v1h-1zM835.5 426.7h2v1h-2zM813.4 456.4h1v1h-1zM835.5 445.4h1v1.5h-1zM841.4 450.4h1.5v1h-1.5zM816.1 423.2h1v1.5h-1zM875.2 454.6h1.5v1h-1.5zM851.6 422.8h1v1h-1zM812.0 427.5h1v1h-1zM845.6 454.5h1v1h-1zM823.6 451.7h2v1h-2zM869.2 459.3h1.5v1h-1.5zM826.8 458.9h2v1h-2zM835.9 436.9h1v1h-1zM851.7 412.2h1v1h-1zM861.2 426.9h1.5v1h-1.5zM875.7 426.0h1v1.5h-1zM844.4 421.6h1v1h-1zM871.5 441.0h1v1.5h-1zM857.3 423.9h1v1h-1zM845.5 423.4h2v1.5h-2zM847.4 458.8h1v1.5h-1zM873.3 414.9h1v1h-1zM854.7 442.4h1v1h-1zM865.7 422.1h1v1.5h-1zM816.0 459.1h1v1.5h-1zM836.0 453.5h1v1h-1zM871.2 446.5h1v1h-1zM859.6 444.3h1.5v1.5h-1.5zM836.3 422.4h1v1h-1zM821.4 420.5h1.5v1h-1.5zM841.7 439.0h1v1h-1zM851.5 417.3h1v1h-1zM861.1 438.1h1v1h-1zM874.6 439.8h1v1.5h-1zM823.3 439.6h1.5v1h-1.5zM878.0 445.2h1v1h-1zM833.0 418.9h1v1.5h-1zM812.6 418.4h1v1h-1zM859.6 421.1h1.5v1h-1.5zM824.8 440.7h2v1.5h-2zM817.9 422.3h1v1h-1zM852.5 414.0h2v1h-2zM860.6 410.3h1v1.5h-1zM855.3 410.8h1v1h-1zM825.6 426.7h1v1.5h-1zM844.6 441.1h1v1h-1zM815.0 431.1h1v1h-1zM854.2 427.1h1.5v1.5h-1.5zM838.6 458.0h1v1h-1zM874.8 438.8h1v1h-1zM839.6 446.2h1v1h-1zM817.4 418.0h1v1.5h-1zM863.9 414.6h1v1h-1zM834.7 444.7h2v1h-2zM856.4 440.7h1v1h-1zM862.1 423.1h1.5v1h-1.5zM864.5 425.8h2v1.5h-2zM842.3 424.2h2v1.5h-2zM875.9 416.7h1v1.5h-1zM843.8 443.4h1v1h-1zM879.3 421.6h1v1h-1zM854.1 416.2h2v1.5h-2zM825.1 449.6h1v1.5h-1zM836.2 417.6h1v1.5h-1zM870.0 449.7h2v1h-2zM835.2 446.2h1.5v1h-1.5zM825.7 456.5h1.5v1h-1.5zM825.6 450.3h1v1h-1zM856.5 410.8h1.5v1.5h-1.5zM870.6 413.1h2v1h-2zM839.3 456.9h1v1h-1zM828.4 423.4h1.5v1h-1.5zM827.0 420.4h1.5v1.5h-1.5zM830.2 454.9h1.5v1h-1.5zM878.7 450.3h1.5v1h-1.5zM876.8 417.0h1v1h-1zM817.1 410.2h1v1h-1zM833.1 441.1h1.5v1h-1.5zM851.0 455.0h1v1.5h-1zM835.9 449.8h1.5v1h-1.5zM841.0 417.1h1v1.5h-1zM812.7 415.7h1v1h-1zM873.9 417.7h1v1h-1zM862.8 433.7h1.5v1h-1.5zM839.6 442.8h1.5v1h-1.5zM878.6 411.7h1v1h-1zM865.7 445.2h1v1h-1zM845.8 421.8h1.5v1.5h-1.5zM818.2 411.0h1v1h-1zM871.6 416.1h1.5v1h-1.5zM847.3 410.1h1v1.5h-1zM848.3 442.3h2v1.5h-2zM879.5 437.0h1.5v1h-1.5zM835.1 421.0h1v1.5h-1zM816.0 445.9h1v1h-1zM829.6 459.3h1v1.5h-1zM814.3 450.3h1v1h-1zM811.7 445.1h1.5v1.5h-1.5zM830.5 426.9h1.5v1.5h-1.5zM860.5 430.4h1v1.5h-1zM839.9 459.6h1.5v1h-1.5zM871.8 451.0h1v1h-1zM852.9 457.2h1v1.5h-1zM853.2 429.2h1v1h-1zM856.8 414.4h2v1h-2zM873.7 412.5h2v1h-2zM858.3 432.6h1v1h-1zM878.0 410.0h1.5v1.5h-1.5zM834.6 437.9h1.5v1h-1.5zM867.9 450.4h1.5v1h-1.5zM860.1 430.1h2v1h-2zM853.3 444.5h1v1h-1zM854.4 437.7h1v1.5h-1zM863.8 423.4h1.5v1.5h-1.5zM835.0 440.1h2v1h-2zM880.0 413.4h2v1h-2zM847.2 436.9h1v1h-1zM857.5 417.8h1.5v1h-1.5zM855.2 452.2h1v1h-1zM837.3 452.4h1.5v1h-1.5zM839.3 445.8h1.5v1h-1.5zM836.2 443.8h2v1.5h-2zM831.9 443.8h1v1h-1zM831.0 432.8h1v1h-1zM854.8 447.3h1v1.5h-1zM821.3 444.7h1v1h-1zM846.9 422.1h1v1.5h-1zM834.5 429.4h1v1.5h-1zM824.9 439.1h1v1.5h-1zM823.3 446.6h1v1h-1zM828.6 423.5h1.5v1h-1.5zM847.2 435.2h1v1h-1zM819.9 458.9h1v1.5h-1zM864.9 456.9h1.5v1h-1.5zM836.3 446.3h1v1h-1zM840.7 441.0h1v1h-1zM827.5 453.3h1v1.5h-1zM824.2 459.5h2v1h-2zM815.4 420.4h1v1h-1zM863.2 429.3h2v1h-2zM845.3 456.0h1v1h-1zM851.9 433.6h1.5v1.5h-1.5zM868.9 431.2h1.5v1h-1.5zM872.4 432.4h1.5v1h-1.5zM846.3 452.1h1v1.5h-1zM824.8 437.6h1v1.5h-1zM833.8 429.8h1.5v1h-1.5zM817.2 453.2h2v1h-2zM818.0 414.5h1v1.5h-1zM842.3 452.0h1v1.5h-1zM834.2 454.0h2v1.5h-2zM862.6 453.0h1v1h-1zM867.4 454.5h1v1h-1zM834.1 436.4h1v1h-1zM879.2 424.0h1v1h-1zM832.6 423.0h1v1.5h-1zM838.2 455.2h1v1h-1zM832.0 454.2h1.5v1.5h-1.5zM828.7 420.3h1v1h-1zM848.0 429.1h1.5v1.5h-1.5zM844.7 439.8h1v1h-1zM824.8 456.9h2v1.5h-2zM814.5 426.0h2v1h-2zM839.2 438.8h1v1h-1zM829.9 450.6h1v1h-1zM860.0 450.9h2v1.5h-2zM842.4 457.7h1.5v1h-1.5zM871.6 412.9h1.5v1.5h-1.5zM819.6 417.0h1v1.5h-1zM845.3 410.7h2v1.5h-2zM866.2 435.4h1v1h-1zM847.9 418.1h1v1.5h-1zM818.0 414.9h1v1h-1zM839.6 443.6h1v1.5h-1zM873.5 445.0h1v1h-1zM874.7 416.8h1v1h-1zM831.3 421.9h2v1h-2zM859.8 446.7h1v1h-1zM833.4 452.9h1v1.5h-1zM878.6 430.0h1v1h-1zM837.2 442.7h1v1.5h-1zM848.7 414.8h1.5v1h-1.5zM861.2 431.9h1.5v1h-1.5zM813.7 427.9h1v1.5h-1zM875.8 436.8h1v1h-1zM835.0 448.3h1.5v1h-1.5zM824.8 424.3h1v1.5h-1zM851.3 448.6h1v1h-1zM843.5 449.2h1v1.5h-1zM874.8 411.7h2v1h-2zM877.7 427.6h1v1.5h-1zM831.7 418.8h1v1h-1zM844.2 426.8h1v1h-1zM818.6 452.4h1v1.5h-1zM849.6 414.9h2v1h-2zM865.4 440.4h1.5v1h-1.5zM813.3 436.2h1v1h-1zM855.6 416.7h2v1h-2zM816.3 447.1h1v1h-1zM822.7 458.0h1v1h-1zM869.1 454.5h1.5v1h-1.5zM821.3 414.8h1v1h-1zM821.6 423.8h2v1h-2zM833.4 422.5h2v1.5h-2zM813.9 423.1h1v1h-1zM838.9 420.4h1v1h-1zM861.1 437.3h1v1h-1zM812.0 458.1h1.5v1.5h-1.5zM850.4 445.1h1v1h-1zM862.8 417.8h1v1h-1zM840.3 441.8h1v1h-1zM850.3 416.2h2v1h-2zM827.1 440.4h2v1.5h-2zM867.5 451.9h1v1.5h-1zM834.3 415.0h1v1.5h-1zM864.3 418.9h1v1h-1zM816.8 448.7h2v1h-2zM811.7 458.0h1.5v1h-1.5zM813.2 450.2h1v1.5h-1zM846.3 418.5h1v1h-1zM825.1 457.2h1v1.5h-1zM878.3 460.9h1.5v1h-1.5zM845.3 449.7h1v1.5h-1zM854.9 420.2h1v1h-1zM865.3 414.7h1v1.5h-1zM822.2 459.3h1.5v1h-1.5zM828.9 445.4h1v1h-1zM862.4 452.5h2v1h-2zM841.0 452.1h2v1h-2zM862.6 440.3h1v1h-1zM877.8 450.2h1v1h-1zM827.6 440.0h2v1h-2zM871.6 439.3h1v1h-1zM856.8 430.1h1v1h-1zM839.0 414.4h1v1.5h-1zM852.0 452.7h1v1h-1zM831.7 440.8h1v1h-1zM839.9 440.8h1.5v1h-1.5zM834.1 420.9h1v1h-1zM869.3 441.6h1v1h-1zM817.1 423.8h1.5v1h-1.5zM856.6 451.2h1v1h-1zM858.1 412.1h1v1h-1zM829.7 458.8h1v1h-1zM826.5 455.4h2v1h-2zM832.3 426.2h2v1.5h-2zM824.1 452.4h1v1h-1zM847.4 410.0h1v1h-1zM876.2 433.2h1v1.5h-1zM835.3 415.1h2v1.5h-2zM870.5 436.2h1.5v1h-1.5zM875.1 455.6h1.5v1h-1.5zM846.5 426.9h1v1h-1zM836.0 443.7h1.5v1.5h-1.5zM866.8 413.0h1.5v1h-1.5zM836.1 459.8h1v1.5h-1zM819.2 429.2h1v1.5h-1zM872.5 447.2h1.5v1h-1.5zM876.4 434.6h1v1h-1zM821.0 440.0h2v1.5h-2zM814.2 430.0h2v1.5h-2zM878.8 442.0h1v1h-1zM864.3 411.3h2v1h-2zM855.8 451.1h1.5v1h-1.5zM877.4 446.2h1v1h-1zM822.2 439.3h1v1.5h-1zM835.0 417.1h2v1h-2zM822.2 447.7h1v1.5h-1zM832.5 412.7h1v1h-1zM864.6 428.4h1v1h-1zM832.3 458.1h1v1.5h-1zM833.1 432.4h1v1.5h-1zM829.0 430.1h1.5v1h-1.5zM829.4 420.4h2v1h-2zM845.6 430.8h1v1h-1zM814.0 424.2h2v1h-2zM856.6 453.3h1.5v1h-1.5zM830.0 428.5h1.5v1.5h-1.5zM867.0 453.4h1v1h-1zM842.0 410.6h2v1.5h-2zM850.1 428.0h1v1h-1zM878.7 455.2h2v1h-2zM863.0 444.6h1.5v1.5h-1.5zM818.7 425.7h1v1.5h-1zM854.7 445.3h1.5v1h-1.5zM869.1 450.3h1v1h-1zM838.1 451.1h1v1h-1zM860.1 417.3h2v1h-2zM857.2 456.0h1v1h-1zM834.4 413.4h1.5v1h-1.5zM845.6 453.4h1v1.5h-1zM840.8 420.9h1v1.5h-1zM865.4 452.8h1v1h-1zM857.3 448.5h2v1h-2zM873.0 455.8h1.5v1h-1.5zM820.1 445.9h1.5v1.5h-1.5zM872.8 446.3h2v1.5h-2zM867.9 423.9h1v1h-1zM832.3 428.3h2v1h-2zM835.8 445.7h1v1h-1zM868.9 426.6h1v1h-1zM854.4 417.1h1v1.5h-1zM815.1 432.7h2v1.5h-2zM866.7 412.0h1.5v1h-1.5zM844.4 425.0h1v1h-1zM847.6 421.7h2v1h-2zM830.4 459.7h2v1.5h-2zM860.2 421.4h1v1h-1zM866.9 423.7h1v1h-1zM876.9 424.0h1v1.5h-1zM818.8 429.9h2v1h-2zM826.6 454.3h1v1h-1zM877.3 426.8h1v1h-1zM855.3 439.4h1.5v1h-1.5zM877.9 454.9h2v1h-2zM824.2 441.4h1v1h-1zM822.4 448.7h1v1.5h-1zM872.9 410.8h1v1.5h-1zM862.3 449.4h1v1.5h-1zM863.1 452.7h1v1.5h-1zM865.2 411.2h2v1.5h-2zM812.1 428.0h1.5v1h-1.5zM868.6 442.7h2v1h-2zM849.5 442.0h2v1.5h-2zM832.8 428.1h1v1h-1zM862.0 445.3h1.5v1h-1.5zM866.5 433.2h1v1h-1zM818.4 417.8h1.5v1h-1.5zM879.3 456.5h1v1h-1zM872.9 459.8h1v1.5h-1zM849.9 435.9h1v1h-1zM828.4 411.1h1v1.5h-1zM830.2 451.6h2v1h-2zM864.4 447.0h1v1h-1zM820.2 410.7h1v1.5h-1zM851.4 429.3h1v1h-1zM843.0 412.2h2v1.5h-2zM874.1 453.8h1v1.5h-1zM849.6 433.5h1v1h-1zM827.8 456.2h1.5v1h-1.5zM817.8 454.8h1v1h-1zM842.5 439.9h1.5v1h-1.5zM850.3 446.7h1.5v1h-1.5zM838.6 444.3h1v1.5h-1zM855.8 445.3h1.5v1.5h-1.5zM820.8 456.4h2v1h-2zM815.3 422.2h1v1h-1zM838.1 450.2h1v1.5h-1zM862.0 443.0h1v1h-1zM873.7 420.2h1v1h-1zM843.2 430.5h1v1.5h-1zM814.1 438.4h2v1h-2zM829.1 417.8h1v1h-1zM863.2 415.3h1v1h-1zM820.9 437.0h2v1.5h-2zM833.3 436.0h1.5v1h-1.5zM816.0 411.5h1v1.5h-1zM849.8 441.3h2v1h-2zM859.7 443.7h2v1h-2zM842.5 444.2h2v1.5h-2zM825.4 419.6h2v1h-2zM825.4 446.1h1v1.5h-1zM840.6 415.6h1v1.5h-1zM846.9 444.6h1v1.5h-1zM827.5 454.9h1v1h-1zM836.4 425.4h1v1h-1zM845.1 439.4h1v1h-1zM811.5 413.8h1v1.5h-1zM858.8 440.5h2v1h-2zM842.4 430.8h2v1.5h-2zM855.8 456.7h1v1h-1zM868.8 446.6h1v1.5h-1zM858.0 453.3h1.5v1h-1.5zM823.4 458.1h1.5v1h-1.5zM859.7 422.9h1v1h-1zM813.0 429.5h1v1h-1zM822.2 458.3h1.5v1.5h-1.5zM868.7 460.7h1v1h-1zM866.5 410.7h2v1h-2zM834.5 437.7h1v1h-1zM811.1 449.3h1v1h-1zM865.8 437.1h1v1h-1zM868.0 426.0h1v1h-1zM815.4 416.2h1.5v1h-1.5zM825.6 412.7h2v1h-2zM875.7 430.8h2v1.5h-2zM864.6 442.2h1v1h-1zM830.8 456.2h1v1.5h-1zM829.0 446.5h1v1.5h-1zM841.2 445.0h1v1h-1zM828.1 423.1h1v1h-1zM858.7 420.7h1v1.5h-1zM877.5 442.8h2v1h-2zM856.3 440.5h1.5v1h-1.5zM816.4 447.2h2v1h-2zM816.1 413.8h2v1h-2zM860.8 443.1h2v1.5h-2zM871.6 457.0h1.5v1h-1.5zM873.1 423.0h1.5v1h-1.5zM859.1 418.8h1v1h-1zM834.6 452.4h1v1h-1zM868.2 421.5h1v1h-1zM857.3 424.2h1v1h-1zM816.0 414.6h2v1h-2zM856.6 419.2h1v1h-1zM817.7 460.1h1.5v1h-1.5zM856.0 439.1h1v1h-1zM815.5 410.8h1v1h-1zM836.1 446.9h1v1h-1zM865.4 422.8h1v1h-1zM847.1 415.7h1v1h-1zM830.7 429.4h1v1h-1zM855.8 455.2h1.5v1h-1.5zM827.6 455.5h1v1h-1zM814.5 443.8h1v1h-1zM830.4 434.1h1.5v1h-1.5zM818.6 438.3h1.5v1h-1.5zM838.9 434.7h1v1h-1zM840.4 413.1h1v1h-1zM829.4 432.6h1v1h-1zM849.3 413.6h1v1h-1zM862.4 438.7h1.5v1h-1.5zM815.1 432.0h1v1h-1zM847.0 436.0h1v1h-1zM818.0 434.3h1.5v1h-1.5zM865.2 416.7h1.5v1.5h-1.5zM832.9 420.5h1v1h-1zM819.3 460.2h1.5v1h-1.5zM823.4 410.6h2v1h-2zM855.4 445.0h1v1.5h-1zM855.7 449.4h2v1h-2zM855.9 417.4h1v1.5h-1zM813.9 453.7h1v1.5h-1zM826.7 440.5h1v1h-1zM826.0 411.8h1.5v1h-1.5zM868.9 425.5h1v1.5h-1zM824.8 413.4h1v1.5h-1zM822.4 428.4h1.5v1h-1.5zM815.5 429.1h1.5v1.5h-1.5zM879.4 441.7h1v1h-1zM868.5 420.3h1.5v1h-1.5zM826.6 459.0h1v1h-1zM839.1 427.5h1v1.5h-1zM836.8 418.3h1v1h-1zM852.9 423.2h1.5v1h-1.5zM849.8 446.3h1v1h-1zM827.6 416.1h1.5v1h-1.5zM873.8 460.9h1v1.5h-1zM833.2 448.4h1v1h-1zM840.2 414.1h1.5v1h-1.5zM828.5 439.1h1v1h-1zM877.0 423.7h1.5v1h-1.5zM814.6 456.7h1v1h-1zM873.4 413.6h1v1h-1zM840.0 437.0h1v1.5h-1zM856.1 436.2h1v1h-1zM827.8 443.6h2v1.5h-2zM866.3 455.8h2v1h-2zM841.1 440.2h1v1.5h-1zM837.4 453.8h1v1.5h-1zM827.3 428.7h2v1h-2zM857.7 413.7h1v1.5h-1zM858.1 420.8h1v1h-1zM841.7 427.3h1v1h-1zM877.1 450.1h1v1h-1zM817.1 459.5h2v1h-2z"/>
<path fill="#000" shape-rendering="crispEdges" d="M673 409h1v54h-1zM699 409h1v54h-1zM673 409h27v1h-27zM673 462h27v1h-27zM661 458h13v1h-13zM699 458h20v1h-20zM810 409h1v54h-1zM881 409h1v54h-1zM810 409h72v1h-72zM810 462h72v1h-72zM798 458h13v1h-13zM881 458h20v1h-20z"/>
<line x1="686.5" y1="398" x2="686.5" y2="474" stroke="#8e3440" stroke-width="1" stroke-dasharray="9 1 2 1" stroke-dashoffset="0" shape-rendering="crispEdges"/>
<line x1="845.5" y1="398" x2="845.5" y2="474" stroke="#8e3440" stroke-width="1" stroke-dasharray="9 1 2 1" stroke-dashoffset="0" shape-rendering="crispEdges"/>
<path fill="#2f9438" shape-rendering="crispEdges" d="M673 390h27v1h-27zM673 387h1v22h-1zM699 387h1v22h-1zM722 409h1v50h-1zM700 409h27v1h-27zM719 458h8v1h-8zM810 387h72v1h-72zM810 384h1v25h-1zM881 384h1v25h-1zM904 409h1v50h-1zM882 409h27v1h-27zM901 458h8v1h-8z"/>
<line x1="669.3" y1="394.7" x2="677.7" y2="386.3" stroke="#2f9438" stroke-width="1.6"/>
<line x1="695.3" y1="394.7" x2="703.7" y2="386.3" stroke="#2f9438" stroke-width="1.6"/>
<line x1="806.3" y1="391.7" x2="814.7" y2="383.3" stroke="#2f9438" stroke-width="1.6"/>
<line x1="877.3" y1="391.7" x2="885.7" y2="383.3" stroke="#2f9438" stroke-width="1.6"/>
<line x1="718.3" y1="405.3" x2="726.7" y2="413.7" stroke="#2f9438" stroke-width="1.6"/>
<line x1="718.3" y1="454.3" x2="726.7" y2="462.7" stroke="#2f9438" stroke-width="1.6"/>
<line x1="900.3" y1="405.3" x2="908.7" y2="413.7" stroke="#2f9438" stroke-width="1.6"/>
<line x1="900.3" y1="454.3" x2="908.7" y2="462.7" stroke="#2f9438" stroke-width="1.6"/>
<text x="677.6" y="389.6" font-size="11" fill="#2f9438" textLength="18.4" lengthAdjust="spacingAndGlyphs" class="cad">300</text>
<text x="835.8" y="385.9" font-size="11.8" fill="#2f9438" textLength="20.4" lengthAdjust="spacingAndGlyphs" class="cad">600</text>
<text transform="translate(721.8 446) rotate(-90)" font-size="11.2" fill="#2f9438" textLength="25.2" lengthAdjust="spacingAndGlyphs" class="cad">≥500</text>
<text transform="translate(903.2 446.4) rotate(-90)" font-size="11.2" fill="#2f9438" textLength="25.4" lengthAdjust="spacingAndGlyphs" class="cad">≥500</text>
<text x="660.8" y="494.6" font-size="9.6" fill="#48a848" textLength="15.2" lengthAdjust="spacingAndGlyphs" class="hei">N-N</text>
<text x="683.2" y="494.8" font-size="9.4" fill="#48a848" textLength="18.8" lengthAdjust="spacingAndGlyphs" class="ser">视图</text>
<text x="826.8" y="494.6" font-size="9.6" fill="#48a848" textLength="15.2" lengthAdjust="spacingAndGlyphs" class="hei">E-E</text>
<text x="848.4" y="494.8" font-size="9.4" fill="#48a848" textLength="19.4" lengthAdjust="spacingAndGlyphs" class="ser">视图</text>
<path stroke="#48a848" stroke-width="1" shape-rendering="crispEdges" d="M661 496.5h43M825 496.5h45"/>
<path fill="#2e8e2e" shape-rendering="crispEdges" d="M823 11h1v248h-1zM823 27h157v1h-157zM823 41h157v1h-157zM823 56h157v1h-157zM823 70h157v1h-157zM823 84h157v1h-157zM823 98h157v1h-157zM823 112h157v1h-157zM823 126h157v1h-157zM823 140h157v1h-157zM823 154h157v1h-157zM823 161h157v1h-157zM823 174h157v1h-157zM823 188h157v1h-157zM823 202h157v1h-157zM823 216h157v1h-157zM823 231h157v1h-157zM823 245h157v1h-157zM823 258h157v1h-157zM873 27h1v128h-1zM838 174h1v85h-1zM863 174h1v85h-1zM928 174h1v85h-1z"/>
<text x="882.9" y="27.1344" font-size="12.3656" fill="#0f960f" textLength="9.1" lengthAdjust="spacingAndGlyphs" font-weight="bold" class="hei" stroke="#0f960f" stroke-width="0.4">技</text>
<text x="895.6" y="27.1344" font-size="12.3656" fill="#0f960f" textLength="9.1" lengthAdjust="spacingAndGlyphs" font-weight="bold" class="hei" stroke="#0f960f" stroke-width="0.4">术</text>
<text x="908.3" y="27.1344" font-size="12.3656" fill="#0f960f" textLength="9.1" lengthAdjust="spacingAndGlyphs" font-weight="bold" class="hei" stroke="#0f960f" stroke-width="0.4">参</text>
<text x="921.4" y="27.1344" font-size="12.3656" fill="#0f960f" textLength="9.1" lengthAdjust="spacingAndGlyphs" font-weight="bold" class="hei" stroke="#0f960f" stroke-width="0.4">数</text>
<text x="826.2" y="39.7398" font-size="10.8602" fill="#0f960f" textLength="6.6" lengthAdjust="spacingAndGlyphs" font-weight="bold" class="hei" stroke="#0f960f" stroke-width="0.4">名</text>
<text x="847.1" y="39.7398" font-size="10.8602" fill="#0f960f" textLength="7" lengthAdjust="spacingAndGlyphs" font-weight="bold" class="hei" stroke="#0f960f" stroke-width="0.4">称</text>
<text x="897.1" y="39.7925" font-size="10.1075" fill="#0f960f" textLength="7.4" lengthAdjust="spacingAndGlyphs" font-weight="bold" class="hei" stroke="#0f960f" stroke-width="0.4">内</text>
<text x="926.3" y="39.7925" font-size="10.1075" fill="#0f960f" textLength="7.7" lengthAdjust="spacingAndGlyphs" font-weight="bold" class="hei" stroke="#0f960f" stroke-width="0.4">容</text>
<text x="826.5" y="53.4376" font-size="9.46237" fill="#0f960f" textLength="24" lengthAdjust="spacingAndGlyphs" font-weight="bold" class="hei" stroke="#0f960f" stroke-width="0.4">工作介质</text>
<text x="883.2" y="53.4376" font-size="9.46237" fill="#0f960f" textLength="5.8" lengthAdjust="spacingAndGlyphs" font-weight="bold" class="hei" stroke="#0f960f" stroke-width="0.4">水</text>
<text x="826.5" y="67.7376" font-size="9.46237" fill="#0f960f" textLength="24" lengthAdjust="spacingAndGlyphs" font-weight="bold" class="hei" stroke="#0f960f" stroke-width="0.4">冷却水量</text>
<text x="854" y="68.4" font-size="12.2222" fill="#0f960f" textLength="15" lengthAdjust="spacingAndGlyphs" font-weight="bold" class="ser" stroke="#0f960f" stroke-width="0.4">m³/h</text>
<text x="882.9" y="68.4" font-size="12.5714" fill="#0f960f" textLength="12.1" lengthAdjust="spacingAndGlyphs" font-weight="bold" class="ser" stroke="#0f960f" stroke-width="0.4">1075</text>
<text x="826.5" y="81.7376" font-size="9.46237" fill="#0f960f" textLength="24" lengthAdjust="spacingAndGlyphs" font-weight="bold" class="hei" stroke="#0f960f" stroke-width="0.4">冷却能力</text>
<text x="859.9" y="82.4" font-size="12.5714" fill="#0f960f" textLength="7.1" lengthAdjust="spacingAndGlyphs" font-weight="bold" class="ser" stroke="#0f960f" stroke-width="0.4">KW</text>
<text x="878.7" y="82.4" font-size="12.5714" fill="#0f960f" textLength="15.2" lengthAdjust="spacingAndGlyphs" font-weight="bold" class="ser" stroke="#0f960f" stroke-width="0.4">95000</text>
<text x="826.5" y="95.7376" font-size="9.46237" fill="#0f960f" textLength="24" lengthAdjust="spacingAndGlyphs" font-weight="bold" class="hei" stroke="#0f960f" stroke-width="0.4">进水温度</text>
<text x="859.9" y="95.7156" font-size="9.77778" fill="#0f960f" textLength="6.1" lengthAdjust="spacingAndGlyphs" font-weight="bold" class="hei" stroke="#0f960f" stroke-width="0.4">℃</text>
<text x="880.2" y="96.4" font-size="12.5714" fill="#0f960f" textLength="5.8" lengthAdjust="spacingAndGlyphs" font-weight="bold" class="ser" stroke="#0f960f" stroke-width="0.4">60</text>
<text x="826.5" y="109.938" font-size="9.46237" fill="#0f960f" textLength="24" lengthAdjust="spacingAndGlyphs" font-weight="bold" class="hei" stroke="#0f960f" stroke-width="0.4">出水温度</text>
<text x="859.9" y="109.916" font-size="9.77778" fill="#0f960f" textLength="6.1" lengthAdjust="spacingAndGlyphs" font-weight="bold" class="hei" stroke="#0f960f" stroke-width="0.4">℃</text>
<text x="880.2" y="110.6" font-size="12.5714" fill="#0f960f" textLength="5.8" lengthAdjust="spacingAndGlyphs" font-weight="bold" class="ser" stroke="#0f960f" stroke-width="0.4">38</text>
<text x="826.5" y="123.738" font-size="9.46237" fill="#0f960f" textLength="24" lengthAdjust="spacingAndGlyphs" font-weight="bold" class="hei" stroke="#0f960f" stroke-width="0.4">湿球温度</text>
<text x="859.9" y="123.716" font-size="9.77778" fill="#0f960f" textLength="6.1" lengthAdjust="spacingAndGlyphs" font-weight="bold" class="hei" stroke="#0f960f" stroke-width="0.4">℃</text>
<text x="880.2" y="124.4" font-size="12.5714" fill="#0f960f" textLength="5.8" lengthAdjust="spacingAndGlyphs" font-weight="bold" class="ser" stroke="#0f960f" stroke-width="0.4">28</text>
<text x="827.5" y="137.538" font-size="9.46237" fill="#0f960f" textLength="24" lengthAdjust="spacingAndGlyphs" font-weight="bold" class="hei" stroke="#0f960f" stroke-width="0.4">轴流风机</text>
<text x="878.3" y="138.2" font-size="12.5714" fill="#0f960f" textLength="18.6" lengthAdjust="spacingAndGlyphs" font-weight="bold" class="ser" stroke="#0f960f" stroke-width="0.4">1500*4</text>
<text x="883.3" y="172.51" font-size="11.2903" fill="#0f960f" textLength="25.3" lengthAdjust="spacingAndGlyphs" font-weight="bold" class="hei" stroke="#0f960f" stroke-width="0.4">管口表</text>
<text x="825.3" y="186.925" font-size="11.0753" fill="#0f960f" textLength="12.5" lengthAdjust="spacingAndGlyphs" font-weight="bold" class="hei" stroke="#0f960f" stroke-width="0.4">符号</text>
<text x="843.1" y="186.925" font-size="11.0753" fill="#0f960f" textLength="25.3" lengthAdjust="spacingAndGlyphs" font-weight="bold" class="hei" stroke="#0f960f" stroke-width="0.4">公称尺寸</text>
<text x="881.5" y="186.925" font-size="11.0753" fill="#0f960f" textLength="44" lengthAdjust="spacingAndGlyphs" font-weight="bold" class="hei" stroke="#0f960f" stroke-width="0.4">连接尺寸及标准</text>
<text x="944.2" y="186.925" font-size="11.0753" fill="#0f960f" textLength="13.1" lengthAdjust="spacingAndGlyphs" font-weight="bold" class="hei" stroke="#0f960f" stroke-width="0.4">用途</text>
<text x="826.6" y="199.9" font-size="12" fill="#0f960f" textLength="6.2" lengthAdjust="spacingAndGlyphs" font-weight="bold" class="ser" stroke="#0f960f" stroke-width="0.4">L1</text>
<text x="844.6" y="199.9" font-size="12" fill="#0f960f" textLength="16.3" lengthAdjust="spacingAndGlyphs" font-weight="bold" class="ser" stroke="#0f960f" stroke-width="0.4">DN200</text>
<text x="870.2" y="199.9" font-size="12" fill="#0f960f" textLength="57.1" lengthAdjust="spacingAndGlyphs" font-weight="bold" class="ser" stroke="#0f960f" stroke-width="0.4">PL200-1.0 HG20593</text>
<text x="930.1" y="199.268" font-size="9.03226" fill="#0f960f" textLength="46.9" lengthAdjust="spacingAndGlyphs" font-weight="bold" class="hei" stroke="#0f960f" stroke-width="0.4">被冷介质进口</text>
<text x="826.6" y="214.5" font-size="12.8571" fill="#0f960f" textLength="6.2" lengthAdjust="spacingAndGlyphs" font-weight="bold" class="ser" stroke="#0f960f" stroke-width="0.4">L2</text>
<text x="844.6" y="214.5" font-size="12.8571" fill="#0f960f" textLength="16.3" lengthAdjust="spacingAndGlyphs" font-weight="bold" class="ser" stroke="#0f960f" stroke-width="0.4">DN200</text>
<text x="870.2" y="214.5" font-size="12.8571" fill="#0f960f" textLength="57.1" lengthAdjust="spacingAndGlyphs" font-weight="bold" class="ser" stroke="#0f960f" stroke-width="0.4">PL200-1.0 HG20593</text>
<text x="930.1" y="213.823" font-size="9.67742" fill="#0f960f" textLength="46.9" lengthAdjust="spacingAndGlyphs" font-weight="bold" class="hei" stroke="#0f960f" stroke-width="0.4">被冷介质出口</text>
<text x="828.1" y="229.5" font-size="12.8571" fill="#0f960f" textLength="3.8" lengthAdjust="spacingAndGlyphs" font-weight="bold" class="ser" stroke="#0f960f" stroke-width="0.4">A</text>
<text x="845" y="229.5" font-size="12.8571" fill="#0f960f" textLength="14" lengthAdjust="spacingAndGlyphs" font-weight="bold" class="ser" stroke="#0f960f" stroke-width="0.4">DN25</text>
<text x="877.7" y="229.5" font-size="12.8571" fill="#0f960f" textLength="17.4" lengthAdjust="spacingAndGlyphs" font-weight="bold" class="ser" stroke="#0f960f" stroke-width="0.4">G2"*2</text>
<text x="945.1" y="228.823" font-size="9.67742" fill="#0f960f" textLength="20.6" lengthAdjust="spacingAndGlyphs" font-weight="bold" class="hei" stroke="#0f960f" stroke-width="0.4">补水口</text>
<text x="828.1" y="243.9" font-size="12" fill="#0f960f" textLength="3.8" lengthAdjust="spacingAndGlyphs" font-weight="bold" class="ser" stroke="#0f960f" stroke-width="0.4">B</text>
<text x="845" y="243.9" font-size="12" fill="#0f960f" textLength="14" lengthAdjust="spacingAndGlyphs" font-weight="bold" class="ser" stroke="#0f960f" stroke-width="0.4">DN50</text>
<text x="877.7" y="243.9" font-size="12" fill="#0f960f" textLength="17.4" lengthAdjust="spacingAndGlyphs" font-weight="bold" class="ser" stroke="#0f960f" stroke-width="0.4">G2"*2</text>
<text x="946.1" y="243.268" font-size="9.03226" fill="#0f960f" textLength="19.6" lengthAdjust="spacingAndGlyphs" font-weight="bold" class="hei" stroke="#0f960f" stroke-width="0.4">排污口</text>
<text x="828.1" y="257.2" font-size="12.2857" fill="#0f960f" textLength="3.8" lengthAdjust="spacingAndGlyphs" font-weight="bold" class="ser" stroke="#0f960f" stroke-width="0.4">C</text>
<text x="845" y="257.2" font-size="12.2857" fill="#0f960f" textLength="14" lengthAdjust="spacingAndGlyphs" font-weight="bold" class="ser" stroke="#0f960f" stroke-width="0.4">DN80</text>
<text x="877.7" y="257.2" font-size="12.2857" fill="#0f960f" textLength="17.4" lengthAdjust="spacingAndGlyphs" font-weight="bold" class="ser" stroke="#0f960f" stroke-width="0.4">G3"*2</text>
<text x="946.1" y="256.553" font-size="9.24731" fill="#0f960f" textLength="19.6" lengthAdjust="spacingAndGlyphs" font-weight="bold" class="hei" stroke="#0f960f" stroke-width="0.4">溢流口</text>
<path stroke="#0f960f" stroke-width="1" shape-rendering="crispEdges" d="M826 200.5h8M826 215.5h8M930 200.5h47M930 215.5h47"/>
<path fill="#2b902b" shape-rendering="crispEdges" d="M548 538h432v1h-432zM548 553h432v1h-432zM548 538h1v31h-1zM567 538h1v31h-1zM651 538h1v31h-1zM757 538h1v31h-1zM775 538h1v31h-1zM866 538h1v31h-1zM890 538h1v31h-1zM919 538h1v31h-1zM547 568h433v2h-433zM547 568h3v118h-3zM548 585h144v2h-144zM548 602h144v2h-144zM548 619h144v2h-144zM548 635h144v2h-144zM548 653h144v2h-144zM548 669h144v2h-144zM581 568h2v118h-2zM609 568h3v52h-3zM631 620h2v66h-2zM654 568h2v118h-2zM691 568h2v118h-2zM692 641h144v2h-144zM692 664h144v2h-144zM815 641h2v24h-2zM763 665h2v21h-2zM835 568h2v118h-2zM836 618h144v2h-144zM836 635h144v2h-144zM836 653h144v2h-144zM907 618h2v36h-2zM942 618h3v36h-3zM854 636h1v18h-1zM871 636h1v18h-1zM890 636h1v18h-1z"/>
<text x="551" y="564.105" font-size="8.49462" fill="#0f960f" textLength="13.4" lengthAdjust="spacingAndGlyphs" font-weight="bold" class="hei" stroke="#0f960f" stroke-width="0.4">序号</text>
<text x="602.3" y="564.105" font-size="8.49462" fill="#0f960f" textLength="13.4" lengthAdjust="spacingAndGlyphs" font-weight="bold" class="hei" stroke="#0f960f" stroke-width="0.4">图号</text>
<text x="685.4" y="564.105" font-size="8.49462" fill="#0f960f" textLength="7" lengthAdjust="spacingAndGlyphs" font-weight="bold" class="hei" stroke="#0f960f" stroke-width="0.4">名</text>
<text x="705.4" y="564.105" font-size="8.49462" fill="#0f960f" textLength="7" lengthAdjust="spacingAndGlyphs" font-weight="bold" class="hei" stroke="#0f960f" stroke-width="0.4">称</text>
<text x="759" y="564.105" font-size="8.49462" fill="#0f960f" textLength="13.2" lengthAdjust="spacingAndGlyphs" font-weight="bold" class="hei" stroke="#0f960f" stroke-width="0.4">数量</text>
<text x="811.2" y="564.105" font-size="8.49462" fill="#0f960f" textLength="7" lengthAdjust="spacingAndGlyphs" font-weight="bold" class="hei" stroke="#0f960f" stroke-width="0.4">材</text>
<text x="827.1" y="564.105" font-size="8.49462" fill="#0f960f" textLength="7" lengthAdjust="spacingAndGlyphs" font-weight="bold" class="hei" stroke="#0f960f" stroke-width="0.4">料</text>
<text x="870.2" y="564.105" font-size="8.49462" fill="#0f960f" textLength="13.4" lengthAdjust="spacingAndGlyphs" font-weight="bold" class="hei" stroke="#0f960f" stroke-width="0.4">单重</text>
<text x="897.4" y="564.105" font-size="8.49462" fill="#0f960f" textLength="13.4" lengthAdjust="spacingAndGlyphs" font-weight="bold" class="hei" stroke="#0f960f" stroke-width="0.4">总重</text>
<text x="937.4" y="564.105" font-size="8.49462" fill="#0f960f" textLength="7" lengthAdjust="spacingAndGlyphs" font-weight="bold" class="hei" stroke="#0f960f" stroke-width="0.4">备</text>
<text x="951" y="564.105" font-size="8.49462" fill="#0f960f" textLength="7" lengthAdjust="spacingAndGlyphs" font-weight="bold" class="hei" stroke="#0f960f" stroke-width="0.4">注</text>
<text x="555.7" y="614.88" font-size="11.7204" fill="#0f960f" textLength="7.5" lengthAdjust="spacingAndGlyphs" font-weight="bold" class="hei" stroke="#0f960f" stroke-width="0.4">标</text>
<text x="569.9" y="614.88" font-size="11.7204" fill="#0f960f" textLength="7.3" lengthAdjust="spacingAndGlyphs" font-weight="bold" class="hei" stroke="#0f960f" stroke-width="0.4">记</text>
<text x="586.1" y="614.88" font-size="11.7204" fill="#0f960f" textLength="7.1" lengthAdjust="spacingAndGlyphs" font-weight="bold" class="hei" stroke="#0f960f" stroke-width="0.4">处</text>
<text x="600.3" y="614.88" font-size="11.7204" fill="#0f960f" textLength="7.5" lengthAdjust="spacingAndGlyphs" font-weight="bold" class="hei" stroke="#0f960f" stroke-width="0.4">数</text>
<text x="616.1" y="614.88" font-size="11.7204" fill="#0f960f" textLength="7.9" lengthAdjust="spacingAndGlyphs" font-weight="bold" class="hei" stroke="#0f960f" stroke-width="0.4">签</text>
<text x="638.1" y="614.88" font-size="11.7204" fill="#0f960f" textLength="7.9" lengthAdjust="spacingAndGlyphs" font-weight="bold" class="hei" stroke="#0f960f" stroke-width="0.4">名</text>
<text x="661.7" y="614.88" font-size="11.7204" fill="#0f960f" textLength="6.9" lengthAdjust="spacingAndGlyphs" font-weight="bold" class="hei" stroke="#0f960f" stroke-width="0.4">日</text>
<text x="677.8" y="614.88" font-size="11.7204" fill="#0f960f" textLength="8.2" lengthAdjust="spacingAndGlyphs" font-weight="bold" class="hei" stroke="#0f960f" stroke-width="0.4">期</text>
<text x="553" y="633.202" font-size="11.3978" fill="#0f960f" textLength="8" lengthAdjust="spacingAndGlyphs" font-weight="bold" class="hei" stroke="#0f960f" stroke-width="0.4">制</text>
<text x="571.9" y="633.202" font-size="11.3978" fill="#0f960f" textLength="7.6" lengthAdjust="spacingAndGlyphs" font-weight="bold" class="hei" stroke="#0f960f" stroke-width="0.4">图</text>
<text x="635.3" y="633.202" font-size="11.3978" fill="#0f960f" textLength="17" lengthAdjust="spacingAndGlyphs" font-weight="bold" class="hei" stroke="#0f960f" stroke-width="0.4">日期</text>
<text x="553" y="650.902" font-size="11.3978" fill="#0f960f" textLength="8" lengthAdjust="spacingAndGlyphs" font-weight="bold" class="hei" stroke="#0f960f" stroke-width="0.4">设</text>
<text x="571.9" y="650.902" font-size="11.3978" fill="#0f960f" textLength="7.6" lengthAdjust="spacingAndGlyphs" font-weight="bold" class="hei" stroke="#0f960f" stroke-width="0.4">计</text>
<text x="635.3" y="650.902" font-size="11.3978" fill="#0f960f" textLength="17" lengthAdjust="spacingAndGlyphs" font-weight="bold" class="hei" stroke="#0f960f" stroke-width="0.4">日期</text>
<text x="553" y="666.795" font-size="11.5054" fill="#0f960f" textLength="8" lengthAdjust="spacingAndGlyphs" font-weight="bold" class="hei" stroke="#0f960f" stroke-width="0.4">审</text>
<text x="571.9" y="666.795" font-size="11.5054" fill="#0f960f" textLength="7.6" lengthAdjust="spacingAndGlyphs" font-weight="bold" class="hei" stroke="#0f960f" stroke-width="0.4">核</text>
<text x="635.3" y="666.795" font-size="11.5054" fill="#0f960f" textLength="17" lengthAdjust="spacingAndGlyphs" font-weight="bold" class="hei" stroke="#0f960f" stroke-width="0.4">日期</text>
<text x="553" y="682.402" font-size="11.3978" fill="#0f960f" textLength="8" lengthAdjust="spacingAndGlyphs" font-weight="bold" class="hei" stroke="#0f960f" stroke-width="0.4">批</text>
<text x="571.9" y="682.402" font-size="11.3978" fill="#0f960f" textLength="7.6" lengthAdjust="spacingAndGlyphs" font-weight="bold" class="hei" stroke="#0f960f" stroke-width="0.4">准</text>
<text x="635.3" y="682.402" font-size="11.3978" fill="#0f960f" textLength="17" lengthAdjust="spacingAndGlyphs" font-weight="bold" class="hei" stroke="#0f960f" stroke-width="0.4">日期</text>
<text x="739.8" y="602.6" font-size="20" fill="#0f960f" textLength="45.4" lengthAdjust="spacingAndGlyphs" font-weight="bold" class="ser" stroke="#0f960f" stroke-width="0.4">TN-1400L</text>
<text x="735.2" y="624.903" font-size="16.2105" fill="#0f960f" textLength="54.5" lengthAdjust="spacingAndGlyphs" font-weight="bold" class="song" stroke="#0f960f" stroke-width="0.4">基础尺寸图</text>
<text x="736.8" y="658.9" font-size="17.3529" fill="#0f960f" textLength="42" lengthAdjust="spacingAndGlyphs" font-weight="normal" class="ser" stroke="#0f960f" stroke-width="0.4">TN-1400L</text>
<text x="824.2" y="657.6" font-size="11.3235" fill="#0f960f" textLength="3.7" lengthAdjust="spacingAndGlyphs" font-weight="normal" class="ser" stroke="#0f960f" stroke-width="0.4">A</text>
<text x="771" y="681.072" font-size="11.828" fill="#0f960f" textLength="57.6" lengthAdjust="spacingAndGlyphs" font-weight="bold" class="song" stroke="#0f960f" stroke-width="0.4">共1页 第1页</text>
<g stroke="#2b902b" stroke-width="1" fill="none"><path d="M701 675.5h26.5M705.7 672.2v6.5L723.8 682.7v-13.7z"/><circle cx="746.2" cy="675.5" r="7.2"/><circle cx="746.2" cy="675.5" r="3.6"/><path d="M736.4 675.5h19.6M746.2 667v16.5"/></g>
<text x="875.1" y="586.884" font-size="14.5161" fill="#0f960f" textLength="68.1" lengthAdjust="spacingAndGlyphs" font-weight="bold" class="song" stroke="#0f960f" stroke-width="0.4">特菱牌方形逆流塔</text>
<text x="869.9" y="610.4" font-size="19.1176" fill="#0f960f" textLength="79.2" lengthAdjust="spacingAndGlyphs" font-weight="bold" class="ser" stroke="#0f960f" stroke-width="0.4">TRLON20170103TR</text>
<text x="847.4" y="632.612" font-size="12.6882" fill="#0f960f" textLength="8.6" lengthAdjust="spacingAndGlyphs" font-weight="bold" class="hei" stroke="#0f960f" stroke-width="0.4">阶</text>
<text x="862.1" y="632.612" font-size="12.6882" fill="#0f960f" textLength="8.3" lengthAdjust="spacingAndGlyphs" font-weight="bold" class="hei" stroke="#0f960f" stroke-width="0.4">段</text>
<text x="876.6" y="632.612" font-size="12.6882" fill="#0f960f" textLength="8.4" lengthAdjust="spacingAndGlyphs" font-weight="bold" class="hei" stroke="#0f960f" stroke-width="0.4">标</text>
<text x="890" y="632.612" font-size="12.6882" fill="#0f960f" textLength="8.3" lengthAdjust="spacingAndGlyphs" font-weight="bold" class="hei" stroke="#0f960f" stroke-width="0.4">记</text>
<text x="914.8" y="632.612" font-size="12.6882" fill="#0f960f" textLength="8.6" lengthAdjust="spacingAndGlyphs" font-weight="bold" class="hei" stroke="#0f960f" stroke-width="0.4">重</text>
<text x="928.7" y="632.612" font-size="12.6882" fill="#0f960f" textLength="8.6" lengthAdjust="spacingAndGlyphs" font-weight="bold" class="hei" stroke="#0f960f" stroke-width="0.4">量</text>
<text x="951" y="632.612" font-size="12.6882" fill="#0f960f" textLength="8.4" lengthAdjust="spacingAndGlyphs" font-weight="bold" class="hei" stroke="#0f960f" stroke-width="0.4">比</text>
<text x="963.6" y="632.612" font-size="12.6882" fill="#0f960f" textLength="8.4" lengthAdjust="spacingAndGlyphs" font-weight="bold" class="hei" stroke="#0f960f" stroke-width="0.4">例</text>
<path stroke="#20205a" stroke-width="1.2" d="M963 641.2l-3.8 9.3"/>
<text x="841.1" y="675.231" font-size="9.69072" fill="#0f960f" textLength="132.3" lengthAdjust="spacingAndGlyphs" font-weight="bold" class="hei" stroke="#0f960f" stroke-width="0.3">特菱（深圳）冷却塔有限公司</text>
<text x="58.4" y="488.56" font-size="11" fill="#2c2c84" textLength="14.6" lengthAdjust="spacingAndGlyphs" class="note">注<tspan font-weight="200" fill="#1c1c54" stroke="#1c1c54" stroke-width=".3">:</tspan></text>
<text x="57.8" y="513.22" font-size="12" fill="#2c2c84" textLength="343.2" lengthAdjust="spacingAndGlyphs" class="note"><tspan font-weight="200" fill="#1c1c54" stroke="#1c1c54" stroke-width=".3">1</tspan>、各支撑面在同一水平面上，其标高及各尺寸误差应小于<tspan font-weight="200" fill="#1c1c54" stroke="#1c1c54" stroke-width=".3">5mm;</tspan></text>
<text x="57.8" y="537.12" font-size="12" fill="#2c2c84" textLength="445.6" lengthAdjust="spacingAndGlyphs" class="note"><tspan font-weight="200" fill="#1c1c54" stroke="#1c1c54" stroke-width=".3">2</tspan>、冷却塔运行总重量为<tspan font-weight="200" fill="#1c1c54" stroke="#1c1c54" stroke-width=".3">: 25280kg,</tspan>其中<tspan font-weight="200" fill="#1c1c54" stroke="#1c1c54" stroke-width=".3">600X600</tspan>的中心缸支撑面占运行重量的</text>
<text x="57.8" y="559.62" font-size="12" fill="#2c2c84" textLength="248.2" lengthAdjust="spacingAndGlyphs" class="note"><tspan font-weight="200" fill="#1c1c54" stroke="#1c1c54" stroke-width=".3">15%</tspan>，其余重量均匀分布在各条形支撑面上。</text>
<text x="57.8" y="583.32" font-size="12" fill="#2c2c84" textLength="436.7" lengthAdjust="spacingAndGlyphs" class="note"><tspan font-weight="200" fill="#1c1c54" stroke="#1c1c54" stroke-width=".3">3</tspan>、冷却塔基础高度<tspan font-weight="200" fill="#1c1c54" stroke="#1c1c54" stroke-width=".3">h≥500mm</tspan>，具体高度应根据出水管管径及其安装高度而定。</text>
<text x="57.8" y="608.32" font-size="12" fill="#2c2c84" textLength="204.2" lengthAdjust="spacingAndGlyphs" class="note"><tspan font-weight="200" fill="#1c1c54" stroke="#1c1c54" stroke-width=".3">4</tspan>、基础梁的配筋由土建工程师确定。</text>
<text x="57.8" y="632.02" font-size="12" fill="#2c2c84" textLength="474.7" lengthAdjust="spacingAndGlyphs" class="note"><tspan font-weight="200" fill="#1c1c54" stroke="#1c1c54" stroke-width=".3">5</tspan>、冷却塔的进风面根据塔型需预留<tspan font-weight="200" fill="#1c1c54" stroke="#1c1c54" stroke-width=".3">3-6m</tspan>进风空间，侧板面需预留至少<tspan font-weight="200" fill="#1c1c54" stroke="#1c1c54" stroke-width=".3">1m</tspan>的维修空间。</text>
</svg>
</body>
</html>
